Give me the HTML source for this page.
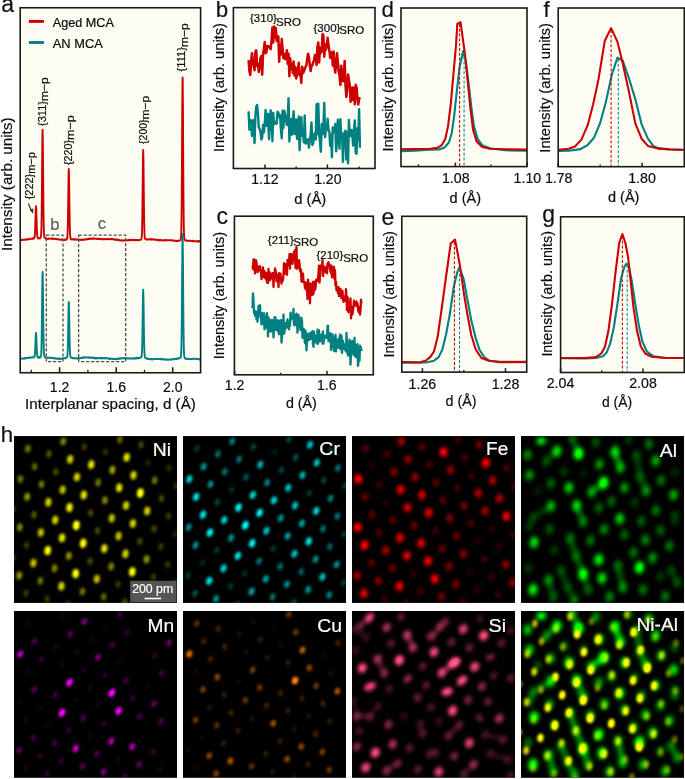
<!DOCTYPE html>
<html><head><meta charset="utf-8"><style>
html,body{margin:0;padding:0;background:#fff;width:685px;height:779px;overflow:hidden;}
text{font-family:"Liberation Sans",sans-serif;}
</style></head><body>
<svg width="685" height="779" viewBox="0 0 685 779" font-family="Liberation Sans, sans-serif" style="position:absolute;left:0;top:0">
<defs>
</defs>
<rect x="20.2" y="7.75" width="180.4" height="365.0" fill="#fdfdf4" stroke="none"/>
<clipPath id="ca"><rect x="20.2" y="7.75" width="180.4" height="365.0"/></clipPath>
<line x1="28.9" y1="21.4" x2="44" y2="21.4" stroke="#cc0000" stroke-width="2.9"/>
<line x1="28.9" y1="42.5" x2="44" y2="42.5" stroke="#008080" stroke-width="2.9"/>
<text x="52.8" y="27.1" font-size="12.8" textLength="61.10" lengthAdjust="spacingAndGlyphs" fill="#0d0d0d" stroke="#0d0d0d" stroke-width="0.2">Aged MCA</text>
<text x="52.8" y="48.2" font-size="12.8" textLength="50.00" lengthAdjust="spacingAndGlyphs" fill="#0d0d0d" stroke="#0d0d0d" stroke-width="0.2">AN MCA</text>
<g clip-path="url(#ca)">
<polyline points="20.20,239.76 20.45,239.94 20.70,239.63 20.95,239.93 21.20,239.75 21.45,239.76 21.70,240.09 21.95,239.84 22.20,239.81 22.45,239.93 22.70,239.99 22.95,239.82 23.20,239.91 23.45,239.67 23.70,239.76 23.95,239.74 24.20,239.59 24.45,239.55 24.70,239.52 24.95,239.71 25.20,239.70 25.45,239.65 25.70,239.69 25.95,239.45 26.20,239.61 26.45,239.63 26.70,239.68 26.95,239.40 27.20,239.44 27.45,239.16 27.70,239.35 27.95,239.06 28.20,239.14 28.45,239.47 28.70,238.94 28.95,239.35 29.20,239.24 29.45,239.10 29.70,239.17 29.95,239.14 30.20,239.18 30.45,238.94 30.70,238.85 30.95,238.80 31.20,238.71 31.45,238.81 31.70,238.65 31.95,238.89 32.20,238.41 32.45,238.48 32.70,238.46 32.95,238.24 33.20,238.79 33.45,238.09 33.70,238.34 33.95,238.21 34.20,238.36 34.45,237.37 34.70,236.61 34.95,233.44 35.20,227.95 35.45,219.67 35.70,211.28 35.95,206.24 36.00,206.24 36.20,208.61 36.45,216.43 36.70,224.55 36.95,231.87 37.20,235.65 37.45,237.18 37.70,237.95 37.95,238.06 38.20,238.47 38.45,238.30 38.70,238.25 38.95,238.26 39.20,238.25 39.45,238.22 39.70,238.07 39.95,238.43 40.20,237.72 40.45,237.28 40.70,237.44 40.95,236.49 41.20,233.85 41.45,226.74 41.70,211.84 41.95,187.30 42.20,157.45 42.45,134.14 42.60,129.68 42.70,132.05 42.95,151.75 43.20,181.31 43.45,208.13 43.70,224.75 43.95,232.88 44.20,236.14 44.45,237.56 44.70,237.85 44.95,238.04 45.20,238.16 45.45,238.39 45.70,238.71 45.95,238.54 46.20,238.44 46.45,238.79 46.70,238.73 46.95,238.86 47.20,238.93 47.45,238.73 47.70,238.74 47.95,238.76 48.20,238.60 48.45,238.87 48.70,238.97 48.95,238.78 49.20,238.72 49.45,238.71 49.70,238.62 49.95,238.61 50.20,238.67 50.45,238.60 50.70,238.66 50.95,238.48 51.20,238.77 51.45,238.72 51.70,238.54 51.95,238.37 52.20,238.72 52.45,238.89 52.70,238.62 52.95,238.67 53.20,238.67 53.45,238.87 53.70,238.65 53.95,238.95 54.20,238.77 54.45,238.98 54.70,238.87 54.95,238.85 55.20,238.69 55.45,238.84 55.70,238.93 55.95,239.10 56.20,239.07 56.45,238.96 56.70,239.16 56.95,239.28 57.20,239.14 57.45,239.14 57.70,239.18 57.95,239.40 58.20,239.39 58.45,239.21 58.70,239.44 58.95,239.35 59.20,239.35 59.45,239.68 59.70,239.65 59.95,239.45 60.20,239.61 60.45,239.70 60.70,239.56 60.95,239.66 61.20,239.81 61.45,239.46 61.70,239.80 61.95,239.88 62.20,239.86 62.45,239.59 62.70,239.85 62.95,239.68 63.20,239.90 63.45,239.91 63.70,239.85 63.95,239.69 64.20,239.71 64.45,239.91 64.70,239.62 64.95,239.80 65.20,239.77 65.45,239.61 65.70,239.95 65.95,239.54 66.20,239.76 66.45,239.02 66.70,238.82 66.95,238.99 67.20,238.15 67.45,235.82 67.70,230.45 67.95,219.23 68.20,202.36 68.45,182.99 68.70,170.20 68.80,169.05 68.95,171.82 69.20,186.81 69.45,206.04 69.70,222.01 69.95,231.74 70.20,236.23 70.45,238.22 70.70,238.51 70.95,239.16 71.20,238.85 71.45,239.24 71.70,239.02 71.95,239.43 72.20,239.24 72.45,239.31 72.70,239.38 72.95,239.19 73.20,239.15 73.45,239.02 73.70,239.52 73.95,239.24 74.20,239.27 74.45,239.37 74.70,239.69 74.95,239.15 75.20,239.46 75.45,239.38 75.70,239.53 75.95,239.20 76.20,239.42 76.45,239.63 76.70,239.75 76.95,239.78 77.20,239.42 77.45,239.58 77.70,239.57 77.95,239.40 78.20,239.40 78.45,239.75 78.70,239.69 78.95,239.64 79.20,239.86 79.45,239.54 79.70,239.78 79.95,239.71 80.20,239.71 80.45,239.80 80.70,239.75 80.95,239.77 81.20,239.77 81.45,240.02 81.70,239.68 81.95,239.87 82.20,239.81 82.45,239.65 82.70,239.81 82.95,239.55 83.20,239.84 83.45,239.53 83.70,239.56 83.95,239.66 84.20,239.71 84.45,239.70 84.70,239.67 84.95,239.47 85.20,239.33 85.45,239.53 85.70,239.46 85.95,239.23 86.20,239.49 86.45,239.34 86.70,239.13 86.95,239.30 87.20,239.00 87.45,239.03 87.70,239.18 87.95,238.85 88.20,239.06 88.45,238.81 88.70,239.09 88.95,238.83 89.20,238.94 89.45,238.65 89.70,238.79 89.95,238.96 90.20,238.86 90.45,238.48 90.70,238.87 90.95,238.84 91.20,238.63 91.45,238.88 91.70,238.49 91.95,238.63 92.20,238.79 92.45,238.81 92.70,238.80 92.95,238.44 93.20,238.33 93.45,238.65 93.70,238.38 93.95,238.58 94.20,238.41 94.45,238.77 94.70,238.74 94.95,238.71 95.20,238.64 95.45,238.66 95.70,238.62 95.95,238.74 96.20,238.74 96.45,238.79 96.70,238.68 96.95,239.05 97.20,238.82 97.45,239.01 97.70,239.03 97.95,238.72 98.20,238.62 98.45,239.08 98.70,238.86 98.95,238.95 99.20,238.92 99.45,239.00 99.70,238.82 99.95,239.00 100.20,238.97 100.45,239.05 100.70,238.73 100.95,239.22 101.20,239.16 101.45,238.87 101.70,239.03 101.95,239.16 102.20,239.26 102.45,239.17 102.70,239.39 102.95,239.19 103.20,239.04 103.45,239.09 103.70,239.31 103.95,239.10 104.20,239.32 104.45,239.34 104.70,239.27 104.95,239.33 105.20,239.15 105.45,239.17 105.70,239.07 105.95,239.06 106.20,238.91 106.45,239.05 106.70,238.97 106.95,238.90 107.20,239.13 107.45,239.17 107.70,239.04 107.95,239.29 108.20,239.22 108.45,239.23 108.70,238.98 108.95,238.84 109.20,239.15 109.45,239.11 109.70,239.17 109.95,239.12 110.20,239.25 110.45,239.03 110.70,239.18 110.95,238.95 111.20,238.75 111.45,239.04 111.70,239.35 111.95,238.89 112.20,239.31 112.45,239.08 112.70,239.15 112.95,239.24 113.20,239.29 113.45,239.14 113.70,239.33 113.95,239.41 114.20,239.50 114.45,239.30 114.70,239.68 114.95,239.77 115.20,239.89 115.45,239.36 115.70,239.63 115.95,239.37 116.20,239.74 116.45,239.81 116.70,239.60 116.95,239.57 117.20,239.88 117.45,239.99 117.70,239.81 117.95,239.93 118.20,239.63 118.45,239.94 118.70,240.11 118.95,240.14 119.20,240.39 119.45,240.01 119.70,239.88 119.95,240.31 120.20,240.18 120.45,240.34 120.70,240.43 120.95,240.43 121.20,240.57 121.45,240.57 121.70,240.14 121.95,240.39 122.20,240.71 122.45,240.35 122.70,240.56 122.95,240.41 123.20,240.36 123.45,240.66 123.70,240.57 123.95,240.37 124.20,240.54 124.45,240.20 124.70,240.27 124.95,240.50 125.20,240.36 125.45,240.18 125.70,240.39 125.95,240.36 126.20,240.48 126.45,240.41 126.70,240.21 126.95,240.16 127.20,240.19 127.45,240.16 127.70,240.39 127.95,240.39 128.20,240.34 128.45,240.17 128.70,240.06 128.95,240.22 129.20,240.01 129.45,240.09 129.70,239.79 129.95,239.96 130.20,240.23 130.45,239.85 130.70,239.77 130.95,239.96 131.20,240.23 131.45,240.19 131.70,239.92 131.95,239.90 132.20,239.96 132.45,239.84 132.70,239.98 132.95,239.94 133.20,239.77 133.45,239.91 133.70,239.97 133.95,239.89 134.20,239.86 134.45,240.17 134.70,240.33 134.95,240.02 135.20,240.01 135.45,240.16 135.70,240.06 135.95,239.99 136.20,240.33 136.45,239.97 136.70,240.03 136.95,240.05 137.20,240.02 137.45,240.12 137.70,240.25 137.95,240.38 138.20,240.26 138.45,240.16 138.70,239.95 138.95,240.11 139.20,239.96 139.45,240.06 139.70,240.18 139.95,240.01 140.20,239.88 140.45,239.72 140.70,239.72 140.95,239.58 141.20,239.18 141.45,238.69 141.70,237.39 141.95,232.93 142.20,223.71 142.45,206.37 142.70,182.89 142.95,159.86 143.20,149.99 143.45,159.78 143.70,182.60 143.95,206.45 144.20,223.35 144.45,232.98 144.70,237.07 144.95,238.23 145.20,239.08 145.45,239.27 145.70,239.05 145.95,239.29 146.20,239.36 146.45,239.36 146.70,239.52 146.95,239.28 147.20,239.44 147.45,239.51 147.70,239.58 147.95,239.47 148.20,239.42 148.45,239.56 148.70,239.14 148.95,239.57 149.20,239.38 149.45,239.23 149.70,239.35 149.95,239.13 150.20,239.10 150.45,239.35 150.70,239.28 150.95,239.51 151.20,239.27 151.45,239.21 151.70,239.27 151.95,239.68 152.20,239.44 152.45,239.36 152.70,239.31 152.95,239.31 153.20,239.47 153.45,239.58 153.70,239.71 153.95,239.73 154.20,239.63 154.45,239.51 154.70,239.51 154.95,239.32 155.20,239.54 155.45,239.79 155.70,239.70 155.95,239.84 156.20,239.61 156.45,239.98 156.70,239.92 156.95,239.91 157.20,239.99 157.45,239.63 157.70,239.91 157.95,239.88 158.20,240.32 158.45,240.04 158.70,240.02 158.95,240.25 159.20,239.98 159.45,240.38 159.70,240.08 159.95,240.19 160.20,240.08 160.45,240.35 160.70,239.92 160.95,240.36 161.20,240.14 161.45,240.28 161.70,240.11 161.95,240.32 162.20,240.31 162.45,240.38 162.70,240.33 162.95,240.38 163.20,240.43 163.45,240.22 163.70,240.10 163.95,240.08 164.20,240.37 164.45,240.20 164.70,240.41 164.95,240.25 165.20,240.08 165.45,240.36 165.70,240.51 165.95,240.19 166.20,240.07 166.45,240.07 166.70,240.33 166.95,240.10 167.20,240.12 167.45,240.28 167.70,240.18 167.95,240.19 168.20,240.10 168.45,240.08 168.70,240.21 168.95,240.21 169.20,240.28 169.45,240.13 169.70,240.26 169.95,240.30 170.20,240.25 170.45,240.34 170.70,240.42 170.95,240.32 171.20,240.32 171.45,240.19 171.70,240.41 171.95,240.37 172.20,240.36 172.45,240.31 172.70,240.55 172.95,240.88 173.20,240.59 173.45,240.57 173.70,240.66 173.95,240.54 174.20,240.67 174.45,240.59 174.70,240.63 174.95,240.79 175.20,240.82 175.45,240.80 175.70,240.73 175.95,240.91 176.20,240.74 176.45,241.04 176.70,240.89 176.95,240.96 177.20,241.09 177.45,241.06 177.70,240.79 177.95,240.94 178.20,241.02 178.45,240.78 178.70,240.55 178.95,240.85 179.20,240.79 179.45,240.78 179.70,240.62 179.95,240.47 180.20,240.28 180.45,240.14 180.70,239.43 180.95,237.98 181.20,233.74 181.45,223.39 181.70,200.80 181.95,163.98 182.20,118.58 182.45,84.25 182.60,77.48 182.70,80.45 182.95,110.56 183.20,155.09 183.45,194.47 183.70,219.69 183.95,232.53 184.20,237.36 184.45,239.12 184.70,239.58 184.95,240.22 185.20,240.32 185.45,240.34 185.70,240.48 185.95,240.34 186.20,240.74 186.45,240.53 186.70,240.86 186.95,240.69 187.20,240.69 187.45,240.85 187.70,240.84 187.95,240.65 188.20,240.82 188.45,240.93 188.70,240.80 188.95,240.64 189.20,240.81 189.45,240.71 189.70,240.77 189.95,240.87 190.20,240.86 190.45,240.84 190.70,240.64 190.95,240.94 191.20,240.87 191.45,240.85 191.70,240.95 191.95,241.22 192.20,240.76 192.45,240.72 192.70,241.09 192.95,240.88 193.20,241.21 193.45,240.88 193.70,240.97 193.95,241.19 194.20,241.22 194.45,241.17 194.70,241.19 194.95,241.12 195.20,241.09 195.45,241.14 195.70,241.38 195.95,241.31 196.20,241.22 196.45,241.28 196.70,241.37 196.95,241.43 197.20,241.24 197.45,241.26 197.70,241.33 197.95,241.67 198.20,241.32 198.45,241.48 198.70,241.06 198.95,241.41 199.20,241.07 199.45,241.11 199.70,241.17 199.95,241.24 200.20,241.27 200.45,241.29" fill="none" stroke="#cc0000" stroke-width="1.9" stroke-linejoin="round" />
<polyline points="20.20,358.51 20.45,358.58 20.70,358.45 20.95,358.58 21.20,358.67 21.45,358.59 21.70,358.76 21.95,358.39 22.20,358.53 22.45,358.41 22.70,358.38 22.95,358.46 23.20,358.51 23.45,358.52 23.70,358.51 23.95,358.75 24.20,358.52 24.45,358.12 24.70,358.37 24.95,358.21 25.20,358.20 25.45,358.44 25.70,358.17 25.95,357.88 26.20,358.18 26.45,358.05 26.70,357.88 26.95,357.88 27.20,357.88 27.45,357.93 27.70,357.83 27.95,357.87 28.20,358.10 28.45,357.66 28.70,357.63 28.95,357.67 29.20,357.84 29.45,357.54 29.70,357.82 29.95,357.38 30.20,357.40 30.45,357.51 30.70,357.37 30.95,357.38 31.20,357.52 31.45,357.54 31.70,357.43 31.95,357.35 32.20,357.58 32.45,357.42 32.70,357.31 32.95,357.50 33.20,357.17 33.45,357.30 33.70,357.34 33.95,357.19 34.20,356.99 34.45,356.81 34.70,355.76 34.95,353.55 35.20,349.23 35.45,343.29 35.70,336.45 35.95,333.05 36.00,332.83 36.20,334.51 36.45,340.50 36.70,347.18 36.95,352.35 37.20,355.10 37.45,356.67 37.70,357.31 37.95,357.43 38.20,357.59 38.45,357.70 38.70,357.56 38.95,357.80 39.20,357.27 39.45,357.44 39.70,357.06 39.95,357.50 40.20,357.30 40.45,357.38 40.70,356.78 40.95,355.78 41.20,354.13 41.45,348.19 41.70,336.45 41.95,317.21 42.20,293.73 42.45,275.35 42.60,271.93 42.70,273.20 42.95,289.42 43.20,312.60 43.45,333.34 43.70,346.68 43.95,353.17 44.20,355.79 44.45,356.55 44.70,357.02 44.95,357.27 45.20,357.47 45.45,357.37 45.70,357.46 45.95,357.54 46.20,357.61 46.45,357.57 46.70,357.52 46.95,357.50 47.20,357.75 47.45,357.64 47.70,357.61 47.95,358.13 48.20,357.75 48.45,357.75 48.70,357.66 48.95,357.49 49.20,357.83 49.45,357.65 49.70,357.69 49.95,357.85 50.20,357.87 50.45,357.77 50.70,357.76 50.95,358.09 51.20,357.89 51.45,357.67 51.70,357.97 51.95,357.90 52.20,357.92 52.45,358.05 52.70,358.01 52.95,358.31 53.20,358.08 53.45,358.12 53.70,358.29 53.95,358.07 54.20,358.35 54.45,358.22 54.70,358.45 54.95,358.18 55.20,358.41 55.45,358.14 55.70,358.35 55.95,358.45 56.20,358.55 56.45,358.81 56.70,358.82 56.95,358.37 57.20,358.48 57.45,358.80 57.70,358.70 57.95,358.45 58.20,358.75 58.45,358.52 58.70,358.57 58.95,358.52 59.20,358.67 59.45,359.05 59.70,358.77 59.95,358.70 60.20,359.09 60.45,358.63 60.70,358.67 60.95,358.64 61.20,358.73 61.45,358.60 61.70,358.85 61.95,358.56 62.20,358.67 62.45,358.59 62.70,358.40 62.95,358.35 63.20,358.46 63.45,358.09 63.70,358.40 63.95,358.37 64.20,358.34 64.45,358.26 64.70,358.28 64.95,358.13 65.20,358.23 65.45,357.83 65.70,358.15 65.95,357.82 66.20,357.94 66.45,357.69 66.70,357.56 66.95,357.25 67.20,356.94 67.45,354.84 67.70,350.54 67.95,342.09 68.20,328.58 68.45,313.26 68.70,302.88 68.80,301.89 68.95,304.42 69.20,315.99 69.45,331.62 69.70,344.28 69.95,351.85 70.20,355.27 70.45,357.15 70.70,357.39 70.95,357.61 71.20,357.64 71.45,357.64 71.70,357.81 71.95,357.94 72.20,357.83 72.45,358.02 72.70,358.21 72.95,358.14 73.20,358.09 73.45,358.29 73.70,358.29 73.95,358.31 74.20,358.08 74.45,357.94 74.70,358.35 74.95,358.25 75.20,358.20 75.45,358.34 75.70,358.20 75.95,358.18 76.20,358.55 76.45,358.04 76.70,358.40 76.95,358.43 77.20,358.53 77.45,358.30 77.70,358.32 77.95,358.10 78.20,358.22 78.45,357.89 78.70,358.10 78.95,358.15 79.20,358.12 79.45,358.04 79.70,358.26 79.95,357.82 80.20,358.04 80.45,357.93 80.70,357.97 80.95,357.94 81.20,358.19 81.45,357.70 81.70,358.03 81.95,358.00 82.20,357.74 82.45,357.63 82.70,357.51 82.95,357.53 83.20,357.94 83.45,357.28 83.70,357.64 83.95,357.44 84.20,357.80 84.45,357.55 84.70,357.28 84.95,357.38 85.20,357.47 85.45,357.45 85.70,357.27 85.95,357.36 86.20,357.33 86.45,357.47 86.70,357.43 86.95,357.43 87.20,357.31 87.45,357.52 87.70,357.33 87.95,357.30 88.20,357.37 88.45,357.40 88.70,357.42 88.95,357.20 89.20,357.71 89.45,357.63 89.70,357.76 89.95,357.53 90.20,357.73 90.45,357.67 90.70,357.68 90.95,357.97 91.20,357.64 91.45,357.85 91.70,357.54 91.95,357.91 92.20,357.83 92.45,357.74 92.70,357.83 92.95,357.63 93.20,357.81 93.45,358.02 93.70,357.63 93.95,358.21 94.20,358.22 94.45,357.98 94.70,357.89 94.95,357.92 95.20,357.95 95.45,358.04 95.70,358.49 95.95,358.01 96.20,358.29 96.45,358.37 96.70,358.05 96.95,358.15 97.20,358.29 97.45,358.09 97.70,358.37 97.95,358.50 98.20,358.16 98.45,358.04 98.70,358.24 98.95,358.19 99.20,358.02 99.45,358.10 99.70,358.12 99.95,358.17 100.20,358.25 100.45,358.00 100.70,357.87 100.95,357.81 101.20,358.32 101.45,357.97 101.70,357.97 101.95,358.39 102.20,358.18 102.45,358.35 102.70,357.99 102.95,357.91 103.20,357.93 103.45,358.11 103.70,358.08 103.95,358.09 104.20,358.37 104.45,358.25 104.70,357.90 104.95,358.14 105.20,358.18 105.45,358.00 105.70,358.48 105.95,358.29 106.20,358.40 106.45,358.12 106.70,358.06 106.95,358.37 107.20,358.26 107.45,358.23 107.70,358.34 107.95,358.42 108.20,358.44 108.45,358.43 108.70,358.56 108.95,358.96 109.20,358.74 109.45,358.52 109.70,358.94 109.95,358.59 110.20,358.47 110.45,358.52 110.70,358.46 110.95,358.96 111.20,358.65 111.45,358.63 111.70,358.78 111.95,358.86 112.20,358.72 112.45,358.84 112.70,358.94 112.95,359.06 113.20,358.83 113.45,359.06 113.70,359.02 113.95,359.07 114.20,358.90 114.45,358.81 114.70,359.12 114.95,359.06 115.20,358.86 115.45,358.83 115.70,359.04 115.95,359.22 116.20,358.95 116.45,359.26 116.70,358.90 116.95,358.88 117.20,358.88 117.45,358.94 117.70,358.52 117.95,358.74 118.20,358.88 118.45,358.43 118.70,358.67 118.95,358.71 119.20,358.83 119.45,358.78 119.70,358.51 119.95,358.79 120.20,358.29 120.45,358.22 120.70,358.60 120.95,358.48 121.20,358.18 121.45,358.50 121.70,358.44 121.95,358.40 122.20,358.21 122.45,358.07 122.70,358.00 122.95,358.21 123.20,358.21 123.45,358.15 123.70,358.14 123.95,358.36 124.20,358.05 124.45,358.11 124.70,358.53 124.95,358.14 125.20,358.15 125.45,358.41 125.70,357.99 125.95,358.52 126.20,358.10 126.45,358.18 126.70,358.13 126.95,358.19 127.20,358.24 127.45,358.51 127.70,358.37 127.95,358.61 128.20,358.54 128.45,358.25 128.70,358.45 128.95,358.37 129.20,358.41 129.45,358.51 129.70,358.56 129.95,358.58 130.20,358.20 130.45,358.51 130.70,358.47 130.95,358.82 131.20,358.50 131.45,358.53 131.70,358.54 131.95,358.65 132.20,358.35 132.45,358.50 132.70,358.49 132.95,358.49 133.20,358.45 133.45,358.39 133.70,358.46 133.95,358.23 134.20,358.65 134.45,358.38 134.70,358.09 134.95,358.29 135.20,358.45 135.45,358.25 135.70,358.23 135.95,357.88 136.20,358.41 136.45,358.18 136.70,357.84 136.95,358.04 137.20,358.30 137.45,358.10 137.70,357.79 137.95,357.90 138.20,357.99 138.45,358.23 138.70,357.92 138.95,357.97 139.20,357.77 139.45,357.79 139.70,357.59 139.95,357.50 140.20,357.44 140.45,357.49 140.70,357.69 140.95,357.39 141.20,357.40 141.45,356.93 141.70,355.71 141.95,352.54 142.20,345.83 142.45,332.62 142.70,314.52 142.95,297.36 143.20,289.77 143.45,297.08 143.70,314.50 143.95,332.69 144.20,346.06 144.45,352.73 144.70,355.73 144.95,357.11 145.20,357.63 145.45,357.76 145.70,358.14 145.95,358.21 146.20,358.22 146.45,358.32 146.70,358.68 146.95,358.76 147.20,358.79 147.45,358.53 147.70,358.83 147.95,358.52 148.20,358.46 148.45,359.04 148.70,358.95 148.95,358.96 149.20,359.11 149.45,359.18 149.70,359.00 149.95,359.02 150.20,359.09 150.45,359.15 150.70,359.07 150.95,358.85 151.20,359.44 151.45,358.97 151.70,359.00 151.95,359.18 152.20,359.09 152.45,359.18 152.70,359.46 152.95,359.31 153.20,359.02 153.45,359.13 153.70,359.07 153.95,359.26 154.20,358.93 154.45,358.91 154.70,358.79 154.95,359.11 155.20,359.08 155.45,359.12 155.70,359.13 155.95,358.81 156.20,358.92 156.45,358.81 156.70,359.15 156.95,359.09 157.20,358.73 157.45,359.03 157.70,358.96 157.95,358.96 158.20,359.05 158.45,358.85 158.70,358.90 158.95,358.85 159.20,358.86 159.45,358.81 159.70,359.15 159.95,359.08 160.20,358.97 160.45,358.77 160.70,359.38 160.95,359.06 161.20,359.11 161.45,359.20 161.70,359.38 161.95,359.10 162.20,358.82 162.45,359.15 162.70,359.22 162.95,359.17 163.20,359.50 163.45,359.24 163.70,359.39 163.95,359.25 164.20,359.51 164.45,359.32 164.70,359.58 164.95,359.50 165.20,359.53 165.45,359.57 165.70,359.30 165.95,359.50 166.20,359.62 166.45,359.54 166.70,359.80 166.95,359.76 167.20,359.53 167.45,359.82 167.70,359.62 167.95,359.73 168.20,359.84 168.45,359.48 168.70,359.52 168.95,359.63 169.20,359.59 169.45,359.36 169.70,359.70 169.95,359.60 170.20,359.59 170.45,359.58 170.70,359.62 170.95,359.36 171.20,359.50 171.45,359.36 171.70,359.32 171.95,359.23 172.20,359.51 172.45,358.92 172.70,359.15 172.95,359.32 173.20,359.13 173.45,359.05 173.70,359.26 173.95,358.93 174.20,358.99 174.45,359.05 174.70,358.88 174.95,358.84 175.20,358.89 175.45,359.00 175.70,358.68 175.95,358.86 176.20,358.74 176.45,358.66 176.70,358.49 176.95,358.91 177.20,358.71 177.45,358.63 177.70,358.51 177.95,358.77 178.20,358.39 178.45,358.30 178.70,358.29 178.95,358.35 179.20,358.35 179.45,357.93 179.70,358.18 179.95,358.07 180.20,358.03 180.45,357.60 180.70,357.44 180.95,356.42 181.20,352.93 181.45,344.96 181.70,328.14 181.95,300.09 182.20,265.74 182.45,239.57 182.60,234.07 182.70,236.75 182.95,259.41 183.20,293.47 183.45,323.44 183.70,342.72 183.95,352.08 184.20,356.18 184.45,357.05 184.70,357.94 184.95,358.08 185.20,358.66 185.45,358.34 185.70,358.64 185.95,358.71 186.20,358.90 186.45,358.84 186.70,358.73 186.95,358.90 187.20,359.13 187.45,359.09 187.70,358.89 187.95,358.82 188.20,358.82 188.45,359.01 188.70,359.00 188.95,358.97 189.20,358.94 189.45,359.04 189.70,359.20 189.95,359.15 190.20,358.92 190.45,359.09 190.70,358.92 190.95,359.14 191.20,359.09 191.45,359.06 191.70,359.24 191.95,359.05 192.20,359.02 192.45,359.08 192.70,358.70 192.95,358.80 193.20,358.79 193.45,358.96 193.70,358.84 193.95,358.64 194.20,358.71 194.45,358.79 194.70,358.76 194.95,358.76 195.20,358.62 195.45,358.87 195.70,358.67 195.95,358.82 196.20,358.80 196.45,358.86 196.70,359.15 196.95,358.89 197.20,358.92 197.45,358.64 197.70,358.91 197.95,359.11 198.20,359.06 198.45,359.26 198.70,359.13 198.95,359.34 199.20,359.29 199.45,359.46 199.70,359.29 199.95,359.51 200.20,359.35 200.45,359.35" fill="none" stroke="#008080" stroke-width="1.9" stroke-linejoin="round" />
</g>
<rect x="46.3" y="235.1" width="16.7" height="126.5" fill="none" stroke="#505050" stroke-width="1.3" stroke-dasharray="3.2,1.8"/>
<rect x="78.6" y="235.1" width="47.1" height="126.5" fill="none" stroke="#505050" stroke-width="1.3" stroke-dasharray="3.2,1.8"/>
<text x="54.8" y="229.5" font-size="16.5" text-anchor="middle" fill="#5c5c5c" stroke="#5c5c5c" stroke-width="0.2" >b</text>
<text x="101.9" y="229.3" font-size="16.5" text-anchor="middle" fill="#5c5c5c" stroke="#5c5c5c" stroke-width="0.2" >c</text>
<text transform="translate(33.0,199.3) rotate(-90)" x="0" y="0" font-size="11.4" textLength="25.50" lengthAdjust="spacingAndGlyphs" fill="#0d0d0d" stroke="#0d0d0d" stroke-width="0.2">{222}</text>
<text transform="translate(35.2,173.8) rotate(-90)" x="0" y="0" font-size="11.4" textLength="21.60" lengthAdjust="spacingAndGlyphs" fill="#0d0d0d" stroke="#0d0d0d" stroke-width="0.2">m−p</text>
<text transform="translate(45.6,126) rotate(-90)" x="0" y="0" font-size="11.4" textLength="25.00" lengthAdjust="spacingAndGlyphs" fill="#0d0d0d" stroke="#0d0d0d" stroke-width="0.2">{311}</text>
<text transform="translate(47.800000000000004,101) rotate(-90)" x="0" y="0" font-size="11.4" textLength="23.60" lengthAdjust="spacingAndGlyphs" fill="#0d0d0d" stroke="#0d0d0d" stroke-width="0.2">m−p</text>
<text transform="translate(71.9,165) rotate(-90)" x="0" y="0" font-size="11.4" textLength="25.00" lengthAdjust="spacingAndGlyphs" fill="#0d0d0d" stroke="#0d0d0d" stroke-width="0.2">{220}</text>
<text transform="translate(74.10000000000001,140) rotate(-90)" x="0" y="0" font-size="11.4" textLength="24.70" lengthAdjust="spacingAndGlyphs" fill="#0d0d0d" stroke="#0d0d0d" stroke-width="0.2">m−p</text>
<text transform="translate(146.5,143.9) rotate(-90)" x="0" y="0" font-size="11.4" textLength="24.40" lengthAdjust="spacingAndGlyphs" fill="#0d0d0d" stroke="#0d0d0d" stroke-width="0.2">{200}</text>
<text transform="translate(148.7,119.5) rotate(-90)" x="0" y="0" font-size="11.4" textLength="23.70" lengthAdjust="spacingAndGlyphs" fill="#0d0d0d" stroke="#0d0d0d" stroke-width="0.2">m−p</text>
<text transform="translate(185.4,71.5) rotate(-90)" x="0" y="0" font-size="11.4" textLength="24.50" lengthAdjust="spacingAndGlyphs" fill="#0d0d0d" stroke="#0d0d0d" stroke-width="0.2">{111}</text>
<text transform="translate(187.6,47) rotate(-90)" x="0" y="0" font-size="11.4" textLength="23.60" lengthAdjust="spacingAndGlyphs" fill="#0d0d0d" stroke="#0d0d0d" stroke-width="0.2">m−p</text>
<line x1="28.3" y1="203.5" x2="31.8" y2="211.5" stroke="#333" stroke-width="1.2"/>
<path d="M33,213.8 L29.6,209.6 L33.4,208.6 Z" fill="#333"/>
<rect x="20.2" y="7.75" width="180.4" height="365.0" fill="none" stroke="#1a1a1a" stroke-width="1.6"/>
<line x1="59.6" y1="372.75" x2="59.6" y2="367.25" stroke="#1a1a1a" stroke-width="1.5"/>
<line x1="116.2" y1="372.75" x2="116.2" y2="367.25" stroke="#1a1a1a" stroke-width="1.5"/>
<line x1="172.7" y1="372.75" x2="172.7" y2="367.25" stroke="#1a1a1a" stroke-width="1.5"/>
<line x1="31.3" y1="372.75" x2="31.3" y2="369.75" stroke="#1a1a1a" stroke-width="1.3"/>
<line x1="87.9" y1="372.75" x2="87.9" y2="369.75" stroke="#1a1a1a" stroke-width="1.3"/>
<line x1="144.5" y1="372.75" x2="144.5" y2="369.75" stroke="#1a1a1a" stroke-width="1.3"/>
<text x="59.6" y="391.5" font-size="14" text-anchor="middle" fill="#0d0d0d" stroke="#0d0d0d" stroke-width="0.2" >1.2</text>
<text x="116.2" y="391.5" font-size="14" text-anchor="middle" fill="#0d0d0d" stroke="#0d0d0d" stroke-width="0.2" >1.6</text>
<text x="172.7" y="391.5" font-size="14" text-anchor="middle" fill="#0d0d0d" stroke="#0d0d0d" stroke-width="0.2" >2.0</text>
<text x="25" y="409.2" font-size="15" textLength="170.90" lengthAdjust="spacingAndGlyphs" fill="#0d0d0d" stroke="#0d0d0d" stroke-width="0.2">Interplanar spacing, d (Å)</text>
<text transform="translate(12.0,251) rotate(-90)" x="0" y="0" font-size="15" textLength="133.50" lengthAdjust="spacingAndGlyphs" fill="#0d0d0d" stroke="#0d0d0d" stroke-width="0.2">Intensity (arb. units)</text>
<text x="1.2" y="12.4" font-size="23" text-anchor="start" fill="#111" stroke="#111" stroke-width="0.2" >a</text>
<rect x="233.4" y="7.6" width="141.6" height="160.9" fill="#fdfdf4" stroke="none"/>
<polyline points="248.60,60.21 249.45,71.48 250.30,74.87 251.15,61.26 252.00,53.19 252.85,61.75 253.70,65.54 254.55,70.17 255.40,51.31 256.25,50.36 257.10,66.01 257.95,63.81 258.80,71.87 259.65,67.03 260.50,57.94 261.35,56.13 262.20,74.70 263.05,54.11 263.90,48.87 264.75,42.00 265.60,53.36 266.45,52.04 267.30,45.99 268.15,46.13 269.00,46.68 269.85,47.91 270.70,49.09 271.55,39.96 272.40,27.50 273.25,42.47 274.10,26.47 274.95,37.43 275.80,27.98 276.65,40.99 277.50,36.02 278.35,36.50 279.20,61.80 280.05,45.71 280.90,54.54 281.75,38.91 282.60,48.90 283.45,58.20 284.30,53.86 285.15,59.14 286.00,58.03 286.85,50.17 287.70,63.75 288.55,53.76 289.40,76.25 290.25,58.26 291.10,68.81 291.95,64.36 292.80,72.98 293.65,61.56 294.50,75.39 295.35,67.11 296.20,78.45 297.05,73.58 297.90,69.96 298.75,62.83 299.60,75.46 300.45,73.30 301.30,82.94 302.15,66.78 303.00,73.10 303.85,71.60 304.70,68.66 305.55,66.93 306.40,65.59 307.25,58.21 308.10,53.77 308.95,57.72 309.80,64.63 310.65,71.00 311.50,65.73 312.35,65.35 313.20,62.15 314.05,60.51 314.90,55.03 315.75,58.37 316.60,65.03 317.45,46.86 318.30,42.57 319.15,62.51 320.00,47.85 320.85,52.71 321.70,50.99 322.55,33.97 323.40,35.50 324.25,56.71 325.10,44.48 325.95,49.65 326.80,45.22 327.65,37.69 328.50,44.98 329.35,50.35 330.20,57.78 331.05,56.01 331.90,52.30 332.75,65.46 333.60,51.51 334.45,66.92 335.30,72.45 336.15,63.89 337.00,53.18 337.85,61.52 338.70,71.95 339.55,75.55 340.40,84.99 341.25,65.84 342.10,75.13 342.95,81.26 343.80,75.76 344.65,60.98 345.50,85.39 346.35,96.89 347.20,88.88 348.05,74.47 348.90,79.46 349.75,85.49 350.60,101.66 351.45,90.53 352.30,87.44 353.15,99.92 354.00,87.75 354.85,104.23 355.70,84.79 356.55,87.41 357.40,97.91 358.25,104.47 359.10,99.24 359.95,97.36" fill="none" stroke="#cc0000" stroke-width="2.5" stroke-linejoin="round" />
<polyline points="248.60,111.38 249.45,129.88 250.30,123.21 251.15,120.09 252.00,135.93 252.85,124.78 253.70,120.06 254.55,143.15 255.40,116.07 256.25,106.73 257.10,104.94 257.95,114.18 258.80,127.29 259.65,129.01 260.50,131.80 261.35,139.49 262.20,137.50 263.05,124.85 263.90,132.30 264.75,124.07 265.60,109.85 266.45,125.86 267.30,116.99 268.15,113.82 269.00,139.30 269.85,125.03 270.70,110.41 271.55,115.06 272.40,141.26 273.25,112.93 274.10,124.26 274.95,122.84 275.80,122.14 276.65,123.63 277.50,111.78 278.35,112.60 279.20,116.72 280.05,115.01 280.90,129.18 281.75,138.34 282.60,110.60 283.45,127.93 284.30,110.73 285.15,114.67 286.00,120.46 286.85,125.01 287.70,119.16 288.55,98.13 289.40,141.43 290.25,122.63 291.10,118.89 291.95,134.74 292.80,120.36 293.65,111.18 294.50,134.05 295.35,133.61 296.20,119.33 297.05,138.97 297.90,133.77 298.75,116.41 299.60,150.28 300.45,133.22 301.30,117.09 302.15,135.82 303.00,132.25 303.85,142.32 304.70,115.49 305.55,143.58 306.40,142.66 307.25,140.00 308.10,139.24 308.95,147.68 309.80,140.95 310.65,133.95 311.50,122.47 312.35,144.96 313.20,143.22 314.05,135.02 314.90,133.09 315.75,139.51 316.60,104.24 317.45,134.33 318.30,103.79 319.15,132.98 320.00,142.27 320.85,151.80 321.70,123.98 322.55,134.27 323.40,128.19 324.25,102.84 325.10,137.13 325.95,128.82 326.80,130.20 327.65,118.81 328.50,129.71 329.35,131.54 330.20,145.90 331.05,134.80 331.90,157.22 332.75,127.41 333.60,129.48 334.45,132.35 335.30,123.91 336.15,151.38 337.00,141.69 337.85,119.70 338.70,136.20 339.55,148.75 340.40,119.13 341.25,137.66 342.10,133.41 342.95,161.89 343.80,141.53 344.65,132.18 345.50,130.65 346.35,159.49 347.20,132.28 348.05,163.42 348.90,120.00 349.75,136.24 350.60,135.58 351.45,129.90 352.30,135.38 353.15,145.66 354.00,129.60 354.85,120.38 355.70,152.52 356.55,153.70 357.40,128.28 358.25,139.63 359.10,109.27 359.95,147.70" fill="none" stroke="#008080" stroke-width="2.4" stroke-linejoin="round" />
<rect x="233.4" y="7.6" width="141.6" height="160.9" fill="none" stroke="#1a1a1a" stroke-width="1.6"/>
<line x1="265" y1="168.5" x2="265" y2="164.5" stroke="#1a1a1a" stroke-width="1.5"/>
<line x1="327.4" y1="168.5" x2="327.4" y2="164.5" stroke="#1a1a1a" stroke-width="1.5"/>
<line x1="296.1" y1="168.5" x2="296.1" y2="166.5" stroke="#1a1a1a" stroke-width="1.3"/>
<line x1="359.2" y1="168.5" x2="359.2" y2="166.5" stroke="#1a1a1a" stroke-width="1.3"/>
<text x="264.9" y="183.6" font-size="14" text-anchor="middle" fill="#0d0d0d" stroke="#0d0d0d" stroke-width="0.2" >1.12</text>
<text x="327.8" y="183.6" font-size="14" text-anchor="middle" fill="#0d0d0d" stroke="#0d0d0d" stroke-width="0.2" >1.20</text>
<text x="294.2" y="204" font-size="15" textLength="32.10" lengthAdjust="spacingAndGlyphs" fill="#0d0d0d" stroke="#0d0d0d" stroke-width="0.2">d (Å)</text>
<text transform="translate(224.1,152) rotate(-90)" x="0" y="0" font-size="14.8" textLength="129.00" lengthAdjust="spacingAndGlyphs" fill="#0d0d0d" stroke="#0d0d0d" stroke-width="0.2">Intensity (arb. units)</text>
<text x="215.7" y="16.9" font-size="22.3" text-anchor="start" fill="#111" stroke="#111" stroke-width="0.2" >b</text>
<text x="250" y="22.3" font-size="11.5" text-anchor="start" fill="#0d0d0d" stroke="#0d0d0d" stroke-width="0.2" >{310}</text>
<text x="276" y="25.7" font-size="11.5" text-anchor="start" fill="#0d0d0d" stroke="#0d0d0d" stroke-width="0.2" >SRO</text>
<text x="313.5" y="31.5" font-size="11.5" text-anchor="start" fill="#0d0d0d" stroke="#0d0d0d" stroke-width="0.2" >{300}</text>
<text x="339.3" y="34.2" font-size="11.5" text-anchor="start" fill="#0d0d0d" stroke="#0d0d0d" stroke-width="0.2" >SRO</text>
<rect x="234.4" y="216.2" width="138.9" height="158.60000000000002" fill="#fdfdf4" stroke="none"/>
<polyline points="252.50,265.90 253.00,269.13 253.50,259.31 254.00,259.35 254.50,266.06 255.00,273.40 255.50,267.40 256.00,260.22 256.50,262.70 257.00,266.79 257.50,272.27 258.00,268.10 258.50,266.80 259.00,267.89 259.50,270.27 260.00,266.22 260.50,270.30 261.00,272.03 261.50,279.19 262.00,271.30 262.50,276.75 263.00,267.40 263.50,277.08 264.00,274.09 264.50,271.09 265.00,274.04 265.50,278.73 266.00,272.88 266.50,279.64 267.00,282.22 267.50,282.87 268.00,283.00 268.50,268.99 269.00,277.04 269.50,272.18 270.00,280.30 270.50,276.18 271.00,277.07 271.50,278.38 272.00,273.37 272.50,276.90 273.00,273.04 273.50,286.94 274.00,274.63 274.50,277.11 275.00,268.52 275.50,270.06 276.00,273.32 276.50,281.46 277.00,281.46 277.50,279.18 278.00,274.78 278.50,287.13 279.00,273.15 279.50,274.11 280.00,280.81 280.50,273.67 281.00,279.99 281.50,283.57 282.00,278.59 282.50,281.06 283.00,279.37 283.50,274.50 284.00,263.25 284.50,269.06 285.00,273.65 285.50,264.23 286.00,268.16 286.50,270.57 287.00,274.75 287.50,260.01 288.00,262.69 288.50,264.95 289.00,264.99 289.50,254.16 290.00,268.67 290.50,254.04 291.00,261.98 291.50,254.19 292.00,257.47 292.50,263.97 293.00,259.53 293.50,256.96 294.00,251.65 294.50,253.66 295.00,250.14 295.50,268.01 296.00,251.26 296.50,247.09 297.00,268.79 297.50,267.86 298.00,260.65 298.50,267.44 299.00,260.11 299.50,263.23 300.00,270.46 300.50,271.82 301.00,269.51 301.50,281.70 302.00,279.22 302.50,278.16 303.00,273.52 303.50,281.95 304.00,281.60 304.50,283.44 305.00,288.42 305.50,282.25 306.00,287.05 306.50,290.33 307.00,288.78 307.50,299.04 308.00,279.66 308.50,288.64 309.00,283.72 309.50,289.90 310.00,303.34 310.50,283.39 311.00,290.71 311.50,294.77 312.00,291.36 312.50,294.81 313.00,281.93 313.50,293.86 314.00,283.65 314.50,281.73 315.00,289.95 315.50,288.26 316.00,281.02 316.50,279.32 317.00,281.14 317.50,280.83 318.00,278.79 318.50,273.34 319.00,265.60 319.50,282.64 320.00,275.99 320.50,267.96 321.00,265.32 321.50,268.67 322.00,269.05 322.50,259.53 323.00,276.06 323.50,270.78 324.00,266.61 324.50,269.50 325.00,268.47 325.50,272.15 326.00,267.20 326.50,272.25 327.00,273.22 327.50,263.54 328.00,263.62 328.50,262.26 329.00,266.27 329.50,264.59 330.00,269.02 330.50,271.27 331.00,273.20 331.50,265.56 332.00,277.46 332.50,271.70 333.00,273.86 333.50,273.02 334.00,266.80 334.50,279.18 335.00,270.26 335.50,285.74 336.00,281.61 336.50,290.33 337.00,286.97 337.50,288.40 338.00,293.03 338.50,287.11 339.00,296.22 339.50,289.18 340.00,292.35 340.50,288.95 341.00,296.27 341.50,298.14 342.00,293.56 342.50,290.94 343.00,298.38 343.50,301.91 344.00,300.27 344.50,296.52 345.00,298.09 345.50,300.67 346.00,289.25 346.50,299.70 347.00,310.08 347.50,296.86 348.00,302.47 348.50,312.27 349.00,307.70 349.50,309.07 350.00,304.07 350.50,298.51 351.00,318.38 351.50,307.24 352.00,307.24 352.50,314.27 353.00,310.18 353.50,306.50 354.00,300.77 354.50,305.54 355.00,305.62 355.50,303.04 356.00,302.15 356.50,301.53 357.00,305.98 357.50,303.66 358.00,308.70 358.50,311.76 359.00,308.34 359.50,306.93 360.00,314.64 360.50,310.18 361.00,299.62 361.50,303.46" fill="none" stroke="#cc0000" stroke-width="2.3" stroke-linejoin="round" />
<polyline points="252.50,308.19 253.00,293.50 253.50,300.00 254.00,312.94 254.50,312.51 255.00,315.64 255.50,311.22 256.00,311.50 256.50,319.57 257.00,313.66 257.50,321.76 258.00,315.56 258.50,305.91 259.00,309.07 259.50,312.17 260.00,305.27 260.50,317.51 261.00,316.40 261.50,324.33 262.00,313.24 262.50,317.44 263.00,322.73 263.50,323.99 264.00,313.13 264.50,329.35 265.00,316.07 265.50,327.76 266.00,318.59 266.50,318.07 267.00,313.10 267.50,320.37 268.00,336.41 268.50,317.63 269.00,331.53 269.50,330.45 270.00,319.89 270.50,329.59 271.00,331.53 271.50,321.13 272.00,319.93 272.50,330.54 273.00,325.98 273.50,337.35 274.00,326.95 274.50,317.20 275.00,324.38 275.50,317.47 276.00,329.89 276.50,329.82 277.00,323.02 277.50,320.27 278.00,331.72 278.50,323.93 279.00,334.25 279.50,320.60 280.00,325.29 280.50,323.44 281.00,320.18 281.50,342.55 282.00,337.00 282.50,322.32 283.00,331.12 283.50,314.63 284.00,333.72 284.50,332.51 285.00,323.37 285.50,323.16 286.00,326.78 286.50,327.96 287.00,322.65 287.50,319.43 288.00,322.99 288.50,321.79 289.00,329.27 289.50,324.74 290.00,325.54 290.50,312.57 291.00,319.64 291.50,318.57 292.00,316.79 292.50,318.32 293.00,316.16 293.50,308.96 294.00,324.99 294.50,325.36 295.00,316.83 295.50,324.52 296.00,315.21 296.50,313.64 297.00,320.81 297.50,332.70 298.00,323.08 298.50,314.90 299.00,326.88 299.50,322.58 300.00,322.48 300.50,330.05 301.00,317.65 301.50,318.16 302.00,321.09 302.50,337.96 303.00,332.56 303.50,328.93 304.00,329.28 304.50,338.55 305.00,343.11 305.50,330.75 306.00,337.10 306.50,350.44 307.00,339.48 307.50,333.70 308.00,338.01 308.50,336.67 309.00,340.30 309.50,338.43 310.00,333.18 310.50,335.65 311.00,338.88 311.50,332.28 312.00,337.17 312.50,331.05 313.00,344.72 313.50,346.84 314.00,331.64 314.50,342.58 315.00,338.39 315.50,337.90 316.00,335.74 316.50,339.02 317.00,343.66 317.50,329.61 318.00,343.73 318.50,335.67 319.00,330.43 319.50,337.03 320.00,341.35 320.50,336.78 321.00,339.19 321.50,335.22 322.00,333.96 322.50,343.64 323.00,331.46 323.50,343.61 324.00,339.46 324.50,335.60 325.00,335.93 325.50,335.78 326.00,337.62 326.50,337.81 327.00,337.46 327.50,326.45 328.00,325.62 328.50,341.24 329.00,335.40 329.50,336.03 330.00,338.79 330.50,333.18 331.00,350.02 331.50,340.58 332.00,339.76 332.50,334.50 333.00,346.88 333.50,346.13 334.00,351.15 334.50,347.70 335.00,337.27 335.50,334.75 336.00,351.48 336.50,339.04 337.00,342.89 337.50,342.89 338.00,347.28 338.50,347.89 339.00,338.32 339.50,341.06 340.00,334.55 340.50,349.15 341.00,344.96 341.50,335.76 342.00,353.02 342.50,346.94 343.00,340.88 343.50,344.89 344.00,344.12 344.50,348.72 345.00,349.64 345.50,345.00 346.00,351.42 346.50,332.85 347.00,347.04 347.50,353.39 348.00,355.48 348.50,354.75 349.00,343.51 349.50,339.70 350.00,348.26 350.50,364.68 351.00,352.40 351.50,346.37 352.00,340.78 352.50,352.24 353.00,348.77 353.50,354.84 354.00,353.13 354.50,337.64 355.00,351.57 355.50,357.21 356.00,348.66 356.50,344.93 357.00,345.15 357.50,344.12 358.00,365.84 358.50,361.03 359.00,348.54 359.50,360.78 360.00,345.74 360.50,348.95 361.00,347.68 361.50,351.13" fill="none" stroke="#008080" stroke-width="2.3" stroke-linejoin="round" />
<rect x="234.4" y="216.2" width="138.9" height="158.60000000000002" fill="none" stroke="#1a1a1a" stroke-width="1.6"/>
<line x1="234.6" y1="374.8" x2="234.6" y2="370.8" stroke="#1a1a1a" stroke-width="1.5"/>
<line x1="327" y1="374.8" x2="327" y2="370.8" stroke="#1a1a1a" stroke-width="1.5"/>
<line x1="280.7" y1="374.8" x2="280.7" y2="372.8" stroke="#1a1a1a" stroke-width="1.3"/>
<text x="234.6" y="389.9" font-size="14" text-anchor="middle" fill="#0d0d0d" stroke="#0d0d0d" stroke-width="0.2" >1.2</text>
<text x="326.8" y="389.9" font-size="14" text-anchor="middle" fill="#0d0d0d" stroke="#0d0d0d" stroke-width="0.2" >1.6</text>
<text x="285.9" y="407.8" font-size="15" textLength="31.00" lengthAdjust="spacingAndGlyphs" fill="#0d0d0d" stroke="#0d0d0d" stroke-width="0.2">d (Å)</text>
<text transform="translate(224.1,359.2) rotate(-90)" x="0" y="0" font-size="14.8" textLength="127.20" lengthAdjust="spacingAndGlyphs" fill="#0d0d0d" stroke="#0d0d0d" stroke-width="0.2">Intensity (arb. units)</text>
<text x="216.6" y="223.6" font-size="23" text-anchor="start" fill="#111" stroke="#111" stroke-width="0.2" >c</text>
<text x="267.8" y="243.6" font-size="11.5" text-anchor="start" fill="#0d0d0d" stroke="#0d0d0d" stroke-width="0.2" >{211}</text>
<text x="293.3" y="245.5" font-size="11.5" text-anchor="start" fill="#0d0d0d" stroke="#0d0d0d" stroke-width="0.2" >SRO</text>
<text x="316.4" y="259.4" font-size="11.5" text-anchor="start" fill="#0d0d0d" stroke="#0d0d0d" stroke-width="0.2" >{210}</text>
<text x="343.2" y="262" font-size="11.5" text-anchor="start" fill="#0d0d0d" stroke="#0d0d0d" stroke-width="0.2" >SRO</text>
<rect x="401.0" y="8.0" width="126.0" height="158.6" fill="#fdfdf4" stroke="none"/>
<clipPath id="cd"><rect x="401.0" y="8.0" width="126.0" height="158.6"/></clipPath>
<g clip-path="url(#cd)">
<polyline points="401.00,151.30 415.00,150.80 430.00,149.70 439.00,149.40 444.40,147.60 448.90,142.50 451.60,133.60 454.20,115.60 456.90,90.40 459.60,67.10 463.20,50.90 465.90,61.70 468.60,83.30 471.30,106.60 474.00,126.40 477.60,138.90 482.10,145.20 490.00,148.30 505.00,150.30 527.00,150.60" fill="none" stroke="#008080" stroke-width="2.1" stroke-linejoin="round" />
<polyline points="401.00,149.20 415.00,149.10 430.00,148.80 437.20,147.90 441.70,145.20 445.30,139.00 448.00,126.40 450.70,104.80 453.40,74.30 456.00,45.50 457.30,24.00 460.50,22.20 462.30,34.80 465.00,54.50 467.70,81.50 470.40,108.40 473.10,130.00 476.70,141.60 482.10,147.00 490.00,148.80 505.00,149.30 527.00,149.60" fill="none" stroke="#cc0000" stroke-width="2.1" stroke-linejoin="round" />
<line x1="459.6" y1="24" x2="459.6" y2="166.6" stroke="#cc0000" stroke-width="1.1" stroke-dasharray="2.9,1.9"/>
<line x1="464.1" y1="52" x2="464.1" y2="166.6" stroke="#0a8e8e" stroke-width="1.1" stroke-dasharray="2.9,1.9"/>
</g>
<rect x="401.0" y="8.0" width="126.0" height="158.6" fill="none" stroke="#1a1a1a" stroke-width="1.6"/>
<line x1="455.4" y1="166.6" x2="455.4" y2="162.6" stroke="#1a1a1a" stroke-width="1.5"/>
<line x1="527" y1="166.6" x2="527" y2="162.6" stroke="#1a1a1a" stroke-width="1.5"/>
<line x1="418.5" y1="166.6" x2="418.5" y2="164.4" stroke="#1a1a1a" stroke-width="1.3"/>
<line x1="490.9" y1="166.6" x2="490.9" y2="164.4" stroke="#1a1a1a" stroke-width="1.3"/>
<text x="455.8" y="182.7" font-size="14.2" text-anchor="middle" fill="#0d0d0d" stroke="#0d0d0d" stroke-width="0.2" >1.08</text>
<text x="527.4" y="182.7" font-size="14.2" text-anchor="middle" fill="#0d0d0d" stroke="#0d0d0d" stroke-width="0.2" >1.10</text>
<text x="449.6" y="202.7" font-size="15" textLength="31.50" lengthAdjust="spacingAndGlyphs" fill="#0d0d0d" stroke="#0d0d0d" stroke-width="0.2">d (Å)</text>
<text transform="translate(392.8,151.5) rotate(-90)" x="0" y="0" font-size="14.8" textLength="128.40" lengthAdjust="spacingAndGlyphs" fill="#0d0d0d" stroke="#0d0d0d" stroke-width="0.2">Intensity (arb. units)</text>
<text x="381.6" y="16.9" font-size="22.3" text-anchor="start" fill="#111" stroke="#111" stroke-width="0.2" >d</text>
<rect x="401.8" y="216.3" width="124.90000000000003" height="155.8" fill="#fdfdf4" stroke="none"/>
<clipPath id="ce"><rect x="401.8" y="216.3" width="124.90000000000003" height="155.8"/></clipPath>
<g clip-path="url(#ce)">
<polyline points="401.80,362.80 420.00,362.70 427.40,362.30 434.00,360.80 438.60,357.10 442.30,349.70 446.00,334.80 449.80,314.30 453.50,288.30 457.20,272.40 459.40,267.40 463.70,279.00 467.40,299.40 471.20,319.90 475.80,338.50 479.50,349.70 484.20,357.10 489.80,360.80 500.00,361.70 526.70,362.20" fill="none" stroke="#008080" stroke-width="2.1" stroke-linejoin="round" />
<polyline points="401.80,362.00 420.00,362.30 425.60,360.80 430.20,357.10 434.00,351.50 437.70,336.60 441.40,310.60 446.00,277.10 450.70,243.60 455.00,239.50 457.20,251.00 460.00,265.90 463.70,292.00 467.40,314.30 471.20,334.80 475.80,349.70 481.40,358.00 488.80,360.80 500.00,362.30 526.70,361.80" fill="none" stroke="#cc0000" stroke-width="2.1" stroke-linejoin="round" />
<line x1="454.4" y1="242" x2="454.4" y2="372.1" stroke="#cc0000" stroke-width="1.1" stroke-dasharray="2.9,1.9"/>
<line x1="459.5" y1="269" x2="459.5" y2="372.1" stroke="#0a8e8e" stroke-width="1.1" stroke-dasharray="2.9,1.9"/>
</g>
<rect x="401.8" y="216.3" width="124.90000000000003" height="155.8" fill="none" stroke="#1a1a1a" stroke-width="1.6"/>
<line x1="422.4" y1="372.1" x2="422.4" y2="368.1" stroke="#1a1a1a" stroke-width="1.5"/>
<line x1="505.5" y1="372.1" x2="505.5" y2="368.1" stroke="#1a1a1a" stroke-width="1.5"/>
<line x1="463.9" y1="372.1" x2="463.9" y2="369.90000000000003" stroke="#1a1a1a" stroke-width="1.3"/>
<text x="422.4" y="389.3" font-size="14.2" text-anchor="middle" fill="#0d0d0d" stroke="#0d0d0d" stroke-width="0.2" >1.26</text>
<text x="505.5" y="389.3" font-size="14.2" text-anchor="middle" fill="#0d0d0d" stroke="#0d0d0d" stroke-width="0.2" >1.28</text>
<text x="445.5" y="406.2" font-size="15" textLength="31.00" lengthAdjust="spacingAndGlyphs" fill="#0d0d0d" stroke="#0d0d0d" stroke-width="0.2">d (Å)</text>
<text transform="translate(393.6,357.4) rotate(-90)" x="0" y="0" font-size="14.8" textLength="126.30" lengthAdjust="spacingAndGlyphs" fill="#0d0d0d" stroke="#0d0d0d" stroke-width="0.2">Intensity (arb. units)</text>
<text x="381.5" y="225.1" font-size="23" text-anchor="start" fill="#111" stroke="#111" stroke-width="0.2" >e</text>
<rect x="558.2" y="8.0" width="126.09999999999991" height="158.7" fill="#fdfdf4" stroke="none"/>
<clipPath id="cf"><rect x="558.2" y="8.0" width="126.09999999999991" height="158.7"/></clipPath>
<g clip-path="url(#cf)">
<polyline points="558.00,150.90 568.80,150.80 580.50,149.10 587.70,145.00 594.00,137.80 600.30,122.50 605.70,102.70 612.00,74.00 617.40,57.80 622.70,60.50 629.00,78.50 635.30,99.10 641.60,124.30 647.90,138.70 653.30,145.90 658.00,148.10 670.00,149.20 683.60,149.80" fill="none" stroke="#008080" stroke-width="2.1" stroke-linejoin="round" />
<polyline points="558.00,149.90 568.80,148.80 575.10,146.40 581.40,139.60 587.70,125.20 593.10,104.50 598.50,79.40 604.80,40.70 611.10,28.10 617.40,41.60 622.70,63.20 629.00,91.90 635.30,123.40 641.60,138.70 647.90,145.90 658.00,148.60 670.00,149.50 683.60,150.00" fill="none" stroke="#cc0000" stroke-width="2.1" stroke-linejoin="round" />
<line x1="611.1" y1="30" x2="611.1" y2="166.7" stroke="#cc0000" stroke-width="1.1" stroke-dasharray="2.9,1.9"/>
<line x1="618.3" y1="59" x2="618.3" y2="166.7" stroke="#0a8e8e" stroke-width="1.1" stroke-dasharray="2.9,1.9"/>
</g>
<rect x="558.2" y="8.0" width="126.09999999999991" height="158.7" fill="none" stroke="#1a1a1a" stroke-width="1.6"/>
<line x1="558.2" y1="166.7" x2="558.2" y2="162.7" stroke="#1a1a1a" stroke-width="1.5"/>
<line x1="642.1" y1="166.7" x2="642.1" y2="162.7" stroke="#1a1a1a" stroke-width="1.5"/>
<line x1="600.2" y1="166.7" x2="600.2" y2="164.5" stroke="#1a1a1a" stroke-width="1.3"/>
<text x="558.7" y="183.3" font-size="14.2" text-anchor="middle" fill="#0d0d0d" stroke="#0d0d0d" stroke-width="0.2" >1.78</text>
<text x="642.1" y="183.3" font-size="14.2" text-anchor="middle" fill="#0d0d0d" stroke="#0d0d0d" stroke-width="0.2" >1.80</text>
<text x="608" y="201.9" font-size="15" textLength="31.40" lengthAdjust="spacingAndGlyphs" fill="#0d0d0d" stroke="#0d0d0d" stroke-width="0.2">d (Å)</text>
<text transform="translate(549.5,152.7) rotate(-90)" x="0" y="0" font-size="14.8" textLength="129.60" lengthAdjust="spacingAndGlyphs" fill="#0d0d0d" stroke="#0d0d0d" stroke-width="0.2">Intensity (arb. units)</text>
<text x="543.5" y="17.3" font-size="22.3" text-anchor="start" fill="#111" stroke="#111" stroke-width="0.2" >f</text>
<rect x="560.6" y="216.8" width="123.69999999999993" height="155.7" fill="#fdfdf4" stroke="none"/>
<clipPath id="cg"><rect x="560.6" y="216.8" width="123.69999999999993" height="155.7"/></clipPath>
<g clip-path="url(#cg)">
<polyline points="560.60,358.30 585.00,358.40 595.80,358.00 603.00,356.20 606.60,352.60 610.20,343.70 613.80,327.50 617.40,304.10 621.00,278.90 624.20,267.20 626.30,263.70 629.00,267.20 631.70,280.70 635.30,304.10 638.90,325.70 642.50,341.90 647.00,351.70 653.30,356.20 665.00,357.70 683.60,358.00" fill="none" stroke="#008080" stroke-width="2.1" stroke-linejoin="round" />
<polyline points="560.60,358.00 585.00,358.00 595.80,357.10 601.20,353.50 604.80,347.20 608.40,331.10 612.00,304.10 615.60,271.70 619.20,243.00 622.40,234.00 625.40,243.00 628.10,257.40 630.80,282.50 633.50,307.70 637.10,331.10 640.70,346.30 645.20,353.50 651.50,356.80 665.00,358.00 683.60,358.00" fill="none" stroke="#cc0000" stroke-width="2.1" stroke-linejoin="round" />
<line x1="622.4" y1="236" x2="622.4" y2="372.5" stroke="#cc0000" stroke-width="1.1" stroke-dasharray="2.9,1.9"/>
<line x1="627.2" y1="265" x2="627.2" y2="372.5" stroke="#0a8e8e" stroke-width="1.1" stroke-dasharray="2.9,1.9"/>
</g>
<rect x="560.6" y="216.8" width="123.69999999999993" height="155.7" fill="none" stroke="#1a1a1a" stroke-width="1.6"/>
<line x1="560.6" y1="372.5" x2="560.6" y2="368.5" stroke="#1a1a1a" stroke-width="1.5"/>
<line x1="643" y1="372.5" x2="643" y2="368.5" stroke="#1a1a1a" stroke-width="1.5"/>
<line x1="601.7" y1="372.5" x2="601.7" y2="370.3" stroke="#1a1a1a" stroke-width="1.3"/>
<text x="560.5" y="388.4" font-size="14.2" text-anchor="middle" fill="#0d0d0d" stroke="#0d0d0d" stroke-width="0.2" >2.04</text>
<text x="643" y="388.4" font-size="14.2" text-anchor="middle" fill="#0d0d0d" stroke="#0d0d0d" stroke-width="0.2" >2.08</text>
<text x="602" y="406.7" font-size="15" textLength="30.20" lengthAdjust="spacingAndGlyphs" fill="#0d0d0d" stroke="#0d0d0d" stroke-width="0.2">d (Å)</text>
<text transform="translate(551.5,356.6) rotate(-90)" x="0" y="0" font-size="14.8" textLength="125.50" lengthAdjust="spacingAndGlyphs" fill="#0d0d0d" stroke="#0d0d0d" stroke-width="0.2">Intensity (arb. units)</text>
<text x="542.2" y="222.0" font-size="23" text-anchor="start" fill="#111" stroke="#111" stroke-width="0.2" >g</text>
<rect x="14" y="436.2" width="163" height="166.5" fill="#000"/>
<rect x="183" y="436.2" width="163" height="166.5" fill="#000"/>
<rect x="352" y="436.2" width="163" height="166.5" fill="#000"/>
<rect x="521" y="436.2" width="163" height="166.5" fill="#000"/>
<rect x="14" y="611.1" width="163" height="166.5" fill="#000"/>
<rect x="183" y="611.1" width="163" height="166.5" fill="#000"/>
<rect x="352" y="611.1" width="163" height="166.5" fill="#000"/>
<rect x="521" y="611.1" width="163" height="166.5" fill="#000"/>
<clipPath id="cNi"><rect x="14" y="436.2" width="163" height="166.5"/></clipPath>
<g clip-path="url(#cNi)"><g filter="url(#f150_114)">
<rect x="2" y="424.2" width="187" height="190.5" fill="#000"/>
<ellipse cx="63.27" cy="441.38" rx="3.98" ry="2.77" transform="rotate(-80 63.27 441.38)" fill="#757500"/>
<ellipse cx="119.85" cy="439.48" rx="3.84" ry="2.67" transform="rotate(-80 119.85 439.48)" fill="#5a5a00"/>
<ellipse cx="27.83" cy="448.60" rx="3.91" ry="2.72" transform="rotate(-80 27.83 448.60)" fill="#686800"/>
<ellipse cx="84.41" cy="446.70" rx="3.63" ry="2.53" transform="rotate(-80 84.41 446.70)" fill="#353500"/>
<ellipse cx="140.99" cy="444.80" rx="3.70" ry="2.58" transform="rotate(-80 140.99 444.80)" fill="#414100"/>
<ellipse cx="48.97" cy="453.92" rx="3.77" ry="2.62" transform="rotate(-80 48.97 453.92)" fill="#4d4d00"/>
<ellipse cx="105.55" cy="452.02" rx="3.56" ry="2.48" transform="rotate(-80 105.55 452.02)" fill="#2a2a00"/>
<ellipse cx="162.13" cy="450.12" rx="3.56" ry="2.48" transform="rotate(-80 162.13 450.12)" fill="#2a2a00"/>
<ellipse cx="70.11" cy="459.24" rx="4.32" ry="3.01" transform="rotate(-80 70.11 459.24)" fill="#bfbf00"/>
<ellipse cx="126.69" cy="457.34" rx="4.39" ry="3.06" transform="rotate(-80 126.69 457.34)" fill="#cece00"/>
<ellipse cx="34.67" cy="466.46" rx="3.84" ry="2.67" transform="rotate(-80 34.67 466.46)" fill="#5a5a00"/>
<ellipse cx="91.25" cy="464.56" rx="4.39" ry="3.06" transform="rotate(-80 91.25 464.56)" fill="#cece00"/>
<ellipse cx="147.83" cy="462.66" rx="3.50" ry="2.43" transform="rotate(-80 147.83 462.66)" fill="#1f1f00"/>
<ellipse cx="55.81" cy="471.78" rx="3.70" ry="2.58" transform="rotate(-80 55.81 471.78)" fill="#414100"/>
<ellipse cx="112.39" cy="469.88" rx="4.12" ry="2.86" transform="rotate(-80 112.39 469.88)" fill="#929200"/>
<ellipse cx="168.97" cy="467.98" rx="3.56" ry="2.48" transform="rotate(-80 168.97 467.98)" fill="#2a2a00"/>
<ellipse cx="20.37" cy="479.00" rx="3.91" ry="2.72" transform="rotate(-80 20.37 479.00)" fill="#686800"/>
<ellipse cx="76.95" cy="477.10" rx="4.32" ry="3.01" transform="rotate(-80 76.95 477.10)" fill="#bfbf00"/>
<ellipse cx="133.53" cy="475.20" rx="4.32" ry="3.01" transform="rotate(-80 133.53 475.20)" fill="#bfbf00"/>
<ellipse cx="41.51" cy="484.32" rx="3.91" ry="2.72" transform="rotate(-80 41.51 484.32)" fill="#686800"/>
<ellipse cx="98.09" cy="482.42" rx="3.91" ry="2.72" transform="rotate(-80 98.09 482.42)" fill="#686800"/>
<ellipse cx="154.67" cy="480.52" rx="3.91" ry="2.72" transform="rotate(-80 154.67 480.52)" fill="#686800"/>
<ellipse cx="62.65" cy="489.64" rx="4.25" ry="2.96" transform="rotate(-80 62.65 489.64)" fill="#afaf00"/>
<ellipse cx="119.23" cy="487.74" rx="4.39" ry="3.06" transform="rotate(-80 119.23 487.74)" fill="#cece00"/>
<ellipse cx="27.21" cy="496.86" rx="4.05" ry="2.82" transform="rotate(-80 27.21 496.86)" fill="#838300"/>
<ellipse cx="83.79" cy="494.96" rx="4.39" ry="3.06" transform="rotate(-80 83.79 494.96)" fill="#cece00"/>
<ellipse cx="140.37" cy="493.06" rx="4.60" ry="3.20" transform="rotate(-80 140.37 493.06)" fill="#ffff00"/>
<ellipse cx="48.35" cy="502.18" rx="4.32" ry="3.01" transform="rotate(-80 48.35 502.18)" fill="#bfbf00"/>
<ellipse cx="104.93" cy="500.28" rx="3.98" ry="2.77" transform="rotate(-80 104.93 500.28)" fill="#757500"/>
<ellipse cx="161.51" cy="498.38" rx="3.70" ry="2.58" transform="rotate(-80 161.51 498.38)" fill="#414100"/>
<ellipse cx="69.49" cy="507.50" rx="4.46" ry="3.10" transform="rotate(-80 69.49 507.50)" fill="#dede00"/>
<ellipse cx="126.07" cy="505.60" rx="4.32" ry="3.01" transform="rotate(-80 126.07 505.60)" fill="#bfbf00"/>
<ellipse cx="34.05" cy="514.72" rx="3.77" ry="2.62" transform="rotate(-80 34.05 514.72)" fill="#4d4d00"/>
<ellipse cx="90.63" cy="512.82" rx="3.70" ry="2.58" transform="rotate(-80 90.63 512.82)" fill="#414100"/>
<ellipse cx="147.21" cy="510.92" rx="4.32" ry="3.01" transform="rotate(-80 147.21 510.92)" fill="#bfbf00"/>
<ellipse cx="55.19" cy="520.04" rx="4.32" ry="3.01" transform="rotate(-80 55.19 520.04)" fill="#bfbf00"/>
<ellipse cx="111.77" cy="518.14" rx="4.25" ry="2.96" transform="rotate(-80 111.77 518.14)" fill="#afaf00"/>
<ellipse cx="168.35" cy="516.24" rx="3.63" ry="2.53" transform="rotate(-80 168.35 516.24)" fill="#353500"/>
<ellipse cx="19.75" cy="527.26" rx="3.98" ry="2.77" transform="rotate(-80 19.75 527.26)" fill="#757500"/>
<ellipse cx="76.33" cy="525.36" rx="4.60" ry="3.20" transform="rotate(-80 76.33 525.36)" fill="#ffff00"/>
<ellipse cx="132.91" cy="523.46" rx="4.32" ry="3.01" transform="rotate(-80 132.91 523.46)" fill="#bfbf00"/>
<ellipse cx="40.89" cy="532.58" rx="4.25" ry="2.96" transform="rotate(-80 40.89 532.58)" fill="#afaf00"/>
<ellipse cx="97.47" cy="530.68" rx="3.70" ry="2.58" transform="rotate(-80 97.47 530.68)" fill="#414100"/>
<ellipse cx="154.05" cy="528.78" rx="3.70" ry="2.58" transform="rotate(-80 154.05 528.78)" fill="#414100"/>
<ellipse cx="62.03" cy="537.90" rx="4.39" ry="3.06" transform="rotate(-80 62.03 537.90)" fill="#cece00"/>
<ellipse cx="118.61" cy="536.00" rx="4.25" ry="2.96" transform="rotate(-80 118.61 536.00)" fill="#afaf00"/>
<ellipse cx="26.59" cy="545.12" rx="3.63" ry="2.53" transform="rotate(-80 26.59 545.12)" fill="#353500"/>
<ellipse cx="83.17" cy="543.22" rx="4.53" ry="3.15" transform="rotate(-80 83.17 543.22)" fill="#efef00"/>
<ellipse cx="139.75" cy="541.32" rx="3.70" ry="2.58" transform="rotate(-80 139.75 541.32)" fill="#414100"/>
<ellipse cx="47.73" cy="550.44" rx="4.53" ry="3.15" transform="rotate(-80 47.73 550.44)" fill="#efef00"/>
<ellipse cx="104.31" cy="548.54" rx="4.39" ry="3.06" transform="rotate(-80 104.31 548.54)" fill="#cece00"/>
<ellipse cx="160.89" cy="546.64" rx="3.63" ry="2.53" transform="rotate(-80 160.89 546.64)" fill="#353500"/>
<ellipse cx="68.87" cy="555.76" rx="4.05" ry="2.82" transform="rotate(-80 68.87 555.76)" fill="#838300"/>
<ellipse cx="125.45" cy="553.86" rx="4.32" ry="3.01" transform="rotate(-80 125.45 553.86)" fill="#bfbf00"/>
<ellipse cx="33.43" cy="562.98" rx="4.25" ry="2.96" transform="rotate(-80 33.43 562.98)" fill="#afaf00"/>
<ellipse cx="90.01" cy="561.08" rx="3.70" ry="2.58" transform="rotate(-80 90.01 561.08)" fill="#414100"/>
<ellipse cx="146.59" cy="559.18" rx="4.05" ry="2.82" transform="rotate(-80 146.59 559.18)" fill="#838300"/>
<ellipse cx="54.57" cy="568.30" rx="3.98" ry="2.77" transform="rotate(-80 54.57 568.30)" fill="#757500"/>
<ellipse cx="111.15" cy="566.40" rx="3.98" ry="2.77" transform="rotate(-80 111.15 566.40)" fill="#757500"/>
<ellipse cx="167.73" cy="564.50" rx="3.63" ry="2.53" transform="rotate(-80 167.73 564.50)" fill="#353500"/>
<ellipse cx="19.13" cy="575.52" rx="4.05" ry="2.82" transform="rotate(-80 19.13 575.52)" fill="#838300"/>
<ellipse cx="75.71" cy="573.62" rx="4.53" ry="3.15" transform="rotate(-80 75.71 573.62)" fill="#efef00"/>
<ellipse cx="132.29" cy="571.72" rx="4.53" ry="3.15" transform="rotate(-80 132.29 571.72)" fill="#efef00"/>
<ellipse cx="40.27" cy="580.84" rx="3.91" ry="2.72" transform="rotate(-80 40.27 580.84)" fill="#686800"/>
<ellipse cx="96.85" cy="578.94" rx="4.25" ry="2.96" transform="rotate(-80 96.85 578.94)" fill="#afaf00"/>
<ellipse cx="153.43" cy="577.04" rx="3.63" ry="2.53" transform="rotate(-80 153.43 577.04)" fill="#353500"/>
<ellipse cx="61.41" cy="586.16" rx="4.32" ry="3.01" transform="rotate(-80 61.41 586.16)" fill="#bfbf00"/>
<ellipse cx="117.99" cy="584.26" rx="3.63" ry="2.53" transform="rotate(-80 117.99 584.26)" fill="#353500"/>
<ellipse cx="25.97" cy="593.38" rx="3.63" ry="2.53" transform="rotate(-80 25.97 593.38)" fill="#353500"/>
<ellipse cx="82.55" cy="591.48" rx="3.91" ry="2.72" transform="rotate(-80 82.55 591.48)" fill="#686800"/>
<ellipse cx="139.13" cy="589.58" rx="3.77" ry="2.62" transform="rotate(-80 139.13 589.58)" fill="#4d4d00"/>
<ellipse cx="47.11" cy="598.70" rx="3.63" ry="2.53" transform="rotate(-80 47.11 598.70)" fill="#353500"/>
<ellipse cx="103.69" cy="596.80" rx="3.84" ry="2.67" transform="rotate(-80 103.69 596.80)" fill="#5a5a00"/>
<ellipse cx="160.27" cy="594.90" rx="3.63" ry="2.53" transform="rotate(-80 160.27 594.90)" fill="#353500"/>
<ellipse cx="68.25" cy="604.02" rx="3.63" ry="2.53" transform="rotate(-80 68.25 604.02)" fill="#353500"/>
<ellipse cx="124.83" cy="602.12" rx="3.70" ry="2.58" transform="rotate(-80 124.83 602.12)" fill="#414100"/>
<ellipse cx="175.81" cy="485.84" rx="3.56" ry="2.48" transform="rotate(-80 175.81 485.84)" fill="#2a2a00"/>
<ellipse cx="175.19" cy="534.10" rx="3.50" ry="2.43" transform="rotate(-80 175.19 534.10)" fill="#1f1f00"/>
<ellipse cx="174.57" cy="582.36" rx="3.50" ry="2.43" transform="rotate(-80 174.57 582.36)" fill="#1f1f00"/>
<ellipse cx="12.91" cy="509.40" rx="3.63" ry="2.53" transform="rotate(-80 12.91 509.40)" fill="#353500"/>
<ellipse cx="12.29" cy="557.66" rx="3.77" ry="2.62" transform="rotate(-80 12.29 557.66)" fill="#4d4d00"/>
</g></g>
<clipPath id="cCr"><rect x="183" y="436.2" width="163" height="166.5"/></clipPath>
<g clip-path="url(#cCr)"><g filter="url(#f150_114)">
<rect x="171" y="424.2" width="187" height="190.5" fill="#000"/>
<ellipse cx="232.27" cy="441.38" rx="3.81" ry="2.59" transform="rotate(-68 232.27 441.38)" fill="#007575"/>
<ellipse cx="288.85" cy="439.48" rx="3.54" ry="2.42" transform="rotate(-68 288.85 439.48)" fill="#004141"/>
<ellipse cx="196.83" cy="448.60" rx="3.48" ry="2.37" transform="rotate(-68 196.83 448.60)" fill="#003535"/>
<ellipse cx="253.41" cy="446.70" rx="3.54" ry="2.42" transform="rotate(-68 253.41 446.70)" fill="#004141"/>
<ellipse cx="309.99" cy="444.80" rx="4.07" ry="2.78" transform="rotate(-68 309.99 444.80)" fill="#00afaf"/>
<ellipse cx="217.97" cy="453.92" rx="3.74" ry="2.55" transform="rotate(-68 217.97 453.92)" fill="#006868"/>
<ellipse cx="274.55" cy="452.02" rx="3.34" ry="2.28" transform="rotate(-68 274.55 452.02)" fill="#001f1f"/>
<ellipse cx="331.13" cy="450.12" rx="3.48" ry="2.37" transform="rotate(-68 331.13 450.12)" fill="#003535"/>
<ellipse cx="239.11" cy="459.24" rx="3.74" ry="2.55" transform="rotate(-68 239.11 459.24)" fill="#006868"/>
<ellipse cx="295.69" cy="457.34" rx="3.61" ry="2.46" transform="rotate(-68 295.69 457.34)" fill="#004d4d"/>
<ellipse cx="203.67" cy="466.46" rx="3.87" ry="2.64" transform="rotate(-68 203.67 466.46)" fill="#008383"/>
<ellipse cx="260.25" cy="464.56" rx="4.00" ry="2.73" transform="rotate(-68 260.25 464.56)" fill="#00a0a0"/>
<ellipse cx="316.83" cy="462.66" rx="4.07" ry="2.78" transform="rotate(-68 316.83 462.66)" fill="#00afaf"/>
<ellipse cx="224.81" cy="471.78" rx="3.74" ry="2.55" transform="rotate(-68 224.81 471.78)" fill="#006868"/>
<ellipse cx="281.39" cy="469.88" rx="3.54" ry="2.42" transform="rotate(-68 281.39 469.88)" fill="#004141"/>
<ellipse cx="337.97" cy="467.98" rx="3.74" ry="2.55" transform="rotate(-68 337.97 467.98)" fill="#006868"/>
<ellipse cx="189.37" cy="479.00" rx="4.14" ry="2.82" transform="rotate(-68 189.37 479.00)" fill="#00bfbf"/>
<ellipse cx="245.95" cy="477.10" rx="3.61" ry="2.46" transform="rotate(-68 245.95 477.10)" fill="#004d4d"/>
<ellipse cx="302.53" cy="475.20" rx="4.00" ry="2.73" transform="rotate(-68 302.53 475.20)" fill="#00a0a0"/>
<ellipse cx="210.51" cy="484.32" rx="3.87" ry="2.64" transform="rotate(-68 210.51 484.32)" fill="#008383"/>
<ellipse cx="267.09" cy="482.42" rx="3.81" ry="2.59" transform="rotate(-68 267.09 482.42)" fill="#007575"/>
<ellipse cx="323.67" cy="480.52" rx="3.54" ry="2.42" transform="rotate(-68 323.67 480.52)" fill="#004141"/>
<ellipse cx="231.65" cy="489.64" rx="3.41" ry="2.32" transform="rotate(-68 231.65 489.64)" fill="#002a2a"/>
<ellipse cx="288.23" cy="487.74" rx="4.07" ry="2.78" transform="rotate(-68 288.23 487.74)" fill="#00afaf"/>
<ellipse cx="196.21" cy="496.86" rx="4.20" ry="2.86" transform="rotate(-68 196.21 496.86)" fill="#00cece"/>
<ellipse cx="252.79" cy="494.96" rx="4.14" ry="2.82" transform="rotate(-68 252.79 494.96)" fill="#00bfbf"/>
<ellipse cx="309.37" cy="493.06" rx="3.48" ry="2.37" transform="rotate(-68 309.37 493.06)" fill="#003535"/>
<ellipse cx="217.35" cy="502.18" rx="3.54" ry="2.42" transform="rotate(-68 217.35 502.18)" fill="#004141"/>
<ellipse cx="273.93" cy="500.28" rx="4.14" ry="2.82" transform="rotate(-68 273.93 500.28)" fill="#00bfbf"/>
<ellipse cx="330.51" cy="498.38" rx="3.81" ry="2.59" transform="rotate(-68 330.51 498.38)" fill="#007575"/>
<ellipse cx="238.49" cy="507.50" rx="4.27" ry="2.91" transform="rotate(-68 238.49 507.50)" fill="#00dede"/>
<ellipse cx="295.07" cy="505.60" rx="4.07" ry="2.78" transform="rotate(-68 295.07 505.60)" fill="#00afaf"/>
<ellipse cx="203.05" cy="514.72" rx="4.20" ry="2.86" transform="rotate(-68 203.05 514.72)" fill="#00cece"/>
<ellipse cx="259.63" cy="512.82" rx="4.27" ry="2.91" transform="rotate(-68 259.63 512.82)" fill="#00dede"/>
<ellipse cx="316.21" cy="510.92" rx="4.14" ry="2.82" transform="rotate(-68 316.21 510.92)" fill="#00bfbf"/>
<ellipse cx="224.19" cy="520.04" rx="4.14" ry="2.82" transform="rotate(-68 224.19 520.04)" fill="#00bfbf"/>
<ellipse cx="280.77" cy="518.14" rx="3.87" ry="2.64" transform="rotate(-68 280.77 518.14)" fill="#008383"/>
<ellipse cx="337.35" cy="516.24" rx="3.74" ry="2.55" transform="rotate(-68 337.35 516.24)" fill="#006868"/>
<ellipse cx="188.75" cy="527.26" rx="3.87" ry="2.64" transform="rotate(-68 188.75 527.26)" fill="#008383"/>
<ellipse cx="245.33" cy="525.36" rx="4.33" ry="2.96" transform="rotate(-68 245.33 525.36)" fill="#00efef"/>
<ellipse cx="301.91" cy="523.46" rx="3.94" ry="2.69" transform="rotate(-68 301.91 523.46)" fill="#009292"/>
<ellipse cx="209.89" cy="532.58" rx="4.27" ry="2.91" transform="rotate(-68 209.89 532.58)" fill="#00dede"/>
<ellipse cx="266.47" cy="530.68" rx="4.07" ry="2.78" transform="rotate(-68 266.47 530.68)" fill="#00afaf"/>
<ellipse cx="323.05" cy="528.78" rx="3.74" ry="2.55" transform="rotate(-68 323.05 528.78)" fill="#006868"/>
<ellipse cx="231.03" cy="537.90" rx="3.87" ry="2.64" transform="rotate(-68 231.03 537.90)" fill="#008383"/>
<ellipse cx="287.61" cy="536.00" rx="3.94" ry="2.69" transform="rotate(-68 287.61 536.00)" fill="#009292"/>
<ellipse cx="195.59" cy="545.12" rx="3.87" ry="2.64" transform="rotate(-68 195.59 545.12)" fill="#008383"/>
<ellipse cx="252.17" cy="543.22" rx="4.27" ry="2.91" transform="rotate(-68 252.17 543.22)" fill="#00dede"/>
<ellipse cx="308.75" cy="541.32" rx="4.20" ry="2.86" transform="rotate(-68 308.75 541.32)" fill="#00cece"/>
<ellipse cx="216.73" cy="550.44" rx="3.48" ry="2.37" transform="rotate(-68 216.73 550.44)" fill="#003535"/>
<ellipse cx="273.31" cy="548.54" rx="3.48" ry="2.37" transform="rotate(-68 273.31 548.54)" fill="#003535"/>
<ellipse cx="329.89" cy="546.64" rx="3.67" ry="2.50" transform="rotate(-68 329.89 546.64)" fill="#005a5a"/>
<ellipse cx="237.87" cy="555.76" rx="4.20" ry="2.86" transform="rotate(-68 237.87 555.76)" fill="#00cece"/>
<ellipse cx="294.45" cy="553.86" rx="4.07" ry="2.78" transform="rotate(-68 294.45 553.86)" fill="#00afaf"/>
<ellipse cx="202.43" cy="562.98" rx="3.41" ry="2.32" transform="rotate(-68 202.43 562.98)" fill="#002a2a"/>
<ellipse cx="259.01" cy="561.08" rx="3.74" ry="2.55" transform="rotate(-68 259.01 561.08)" fill="#006868"/>
<ellipse cx="315.59" cy="559.18" rx="3.87" ry="2.64" transform="rotate(-68 315.59 559.18)" fill="#008383"/>
<ellipse cx="223.57" cy="568.30" rx="4.14" ry="2.82" transform="rotate(-68 223.57 568.30)" fill="#00bfbf"/>
<ellipse cx="280.15" cy="566.40" rx="3.74" ry="2.55" transform="rotate(-68 280.15 566.40)" fill="#006868"/>
<ellipse cx="336.73" cy="564.50" rx="3.87" ry="2.64" transform="rotate(-68 336.73 564.50)" fill="#008383"/>
<ellipse cx="188.13" cy="575.52" rx="3.48" ry="2.37" transform="rotate(-68 188.13 575.52)" fill="#003535"/>
<ellipse cx="244.71" cy="573.62" rx="3.41" ry="2.32" transform="rotate(-68 244.71 573.62)" fill="#002a2a"/>
<ellipse cx="301.29" cy="571.72" rx="3.67" ry="2.50" transform="rotate(-68 301.29 571.72)" fill="#005a5a"/>
<ellipse cx="209.27" cy="580.84" rx="4.20" ry="2.86" transform="rotate(-68 209.27 580.84)" fill="#00cece"/>
<ellipse cx="265.85" cy="578.94" rx="3.94" ry="2.69" transform="rotate(-68 265.85 578.94)" fill="#009292"/>
<ellipse cx="322.43" cy="577.04" rx="4.07" ry="2.78" transform="rotate(-68 322.43 577.04)" fill="#00afaf"/>
<ellipse cx="230.41" cy="586.16" rx="3.48" ry="2.37" transform="rotate(-68 230.41 586.16)" fill="#003535"/>
<ellipse cx="286.99" cy="584.26" rx="3.87" ry="2.64" transform="rotate(-68 286.99 584.26)" fill="#008383"/>
<ellipse cx="194.97" cy="593.38" rx="3.61" ry="2.46" transform="rotate(-68 194.97 593.38)" fill="#004d4d"/>
<ellipse cx="251.55" cy="591.48" rx="3.94" ry="2.69" transform="rotate(-68 251.55 591.48)" fill="#009292"/>
<ellipse cx="308.13" cy="589.58" rx="3.87" ry="2.64" transform="rotate(-68 308.13 589.58)" fill="#008383"/>
<ellipse cx="216.11" cy="598.70" rx="3.87" ry="2.64" transform="rotate(-68 216.11 598.70)" fill="#008383"/>
<ellipse cx="272.69" cy="596.80" rx="3.74" ry="2.55" transform="rotate(-68 272.69 596.80)" fill="#006868"/>
<ellipse cx="329.27" cy="594.90" rx="3.81" ry="2.59" transform="rotate(-68 329.27 594.90)" fill="#007575"/>
<ellipse cx="237.25" cy="604.02" rx="3.48" ry="2.37" transform="rotate(-68 237.25 604.02)" fill="#003535"/>
<ellipse cx="293.83" cy="602.12" rx="3.54" ry="2.42" transform="rotate(-68 293.83 602.12)" fill="#004141"/>
<ellipse cx="344.81" cy="485.84" rx="3.48" ry="2.37" transform="rotate(-68 344.81 485.84)" fill="#003535"/>
<ellipse cx="344.19" cy="534.10" rx="3.48" ry="2.37" transform="rotate(-68 344.19 534.10)" fill="#003535"/>
<ellipse cx="343.57" cy="582.36" rx="3.48" ry="2.37" transform="rotate(-68 343.57 582.36)" fill="#003535"/>
</g></g>
<clipPath id="cFe"><rect x="352" y="436.2" width="163" height="166.5"/></clipPath>
<g clip-path="url(#cFe)"><g filter="url(#f190_130)">
<rect x="340" y="424.2" width="187" height="190.5" fill="#000"/>
<ellipse cx="401.27" cy="441.38" rx="4.11" ry="3.29" transform="rotate(-78 401.27 441.38)" fill="#980000"/>
<ellipse cx="457.85" cy="439.48" rx="3.71" ry="2.97" transform="rotate(-78 457.85 439.48)" fill="#3c0000"/>
<ellipse cx="365.83" cy="448.60" rx="3.82" ry="3.06" transform="rotate(-78 365.83 448.60)" fill="#550000"/>
<ellipse cx="422.41" cy="446.70" rx="3.82" ry="3.06" transform="rotate(-78 422.41 446.70)" fill="#550000"/>
<ellipse cx="478.99" cy="444.80" rx="3.94" ry="3.15" transform="rotate(-78 478.99 444.80)" fill="#6f0000"/>
<ellipse cx="386.97" cy="453.92" rx="3.77" ry="3.02" transform="rotate(-78 386.97 453.92)" fill="#480000"/>
<ellipse cx="443.55" cy="452.02" rx="4.44" ry="3.56" transform="rotate(-78 443.55 452.02)" fill="#f00000"/>
<ellipse cx="500.13" cy="450.12" rx="3.71" ry="2.97" transform="rotate(-78 500.13 450.12)" fill="#3c0000"/>
<ellipse cx="408.11" cy="459.24" rx="4.05" ry="3.24" transform="rotate(-78 408.11 459.24)" fill="#8a0000"/>
<ellipse cx="464.69" cy="457.34" rx="3.77" ry="3.02" transform="rotate(-78 464.69 457.34)" fill="#480000"/>
<ellipse cx="372.67" cy="466.46" rx="3.60" ry="2.88" transform="rotate(-78 372.67 466.46)" fill="#250000"/>
<ellipse cx="429.25" cy="464.56" rx="3.77" ry="3.02" transform="rotate(-78 429.25 464.56)" fill="#480000"/>
<ellipse cx="485.83" cy="462.66" rx="4.44" ry="3.56" transform="rotate(-78 485.83 462.66)" fill="#f00000"/>
<ellipse cx="393.81" cy="471.78" rx="3.99" ry="3.19" transform="rotate(-78 393.81 471.78)" fill="#7c0000"/>
<ellipse cx="450.39" cy="469.88" rx="4.05" ry="3.24" transform="rotate(-78 450.39 469.88)" fill="#8a0000"/>
<ellipse cx="506.97" cy="467.98" rx="3.77" ry="3.02" transform="rotate(-78 506.97 467.98)" fill="#480000"/>
<ellipse cx="358.37" cy="479.00" rx="4.44" ry="3.56" transform="rotate(-78 358.37 479.00)" fill="#f00000"/>
<ellipse cx="414.95" cy="477.10" rx="4.05" ry="3.24" transform="rotate(-78 414.95 477.10)" fill="#8a0000"/>
<ellipse cx="471.53" cy="475.20" rx="3.71" ry="2.97" transform="rotate(-78 471.53 475.20)" fill="#3c0000"/>
<ellipse cx="379.51" cy="484.32" rx="3.71" ry="2.97" transform="rotate(-78 379.51 484.32)" fill="#3c0000"/>
<ellipse cx="436.09" cy="482.42" rx="3.82" ry="3.06" transform="rotate(-78 436.09 482.42)" fill="#550000"/>
<ellipse cx="492.67" cy="480.52" rx="4.16" ry="3.33" transform="rotate(-78 492.67 480.52)" fill="#a60000"/>
<ellipse cx="400.65" cy="489.64" rx="4.33" ry="3.47" transform="rotate(-78 400.65 489.64)" fill="#d20000"/>
<ellipse cx="457.23" cy="487.74" rx="3.77" ry="3.02" transform="rotate(-78 457.23 487.74)" fill="#480000"/>
<ellipse cx="365.21" cy="496.86" rx="3.88" ry="3.11" transform="rotate(-78 365.21 496.86)" fill="#620000"/>
<ellipse cx="421.79" cy="494.96" rx="4.27" ry="3.42" transform="rotate(-78 421.79 494.96)" fill="#c30000"/>
<ellipse cx="478.37" cy="493.06" rx="4.16" ry="3.33" transform="rotate(-78 478.37 493.06)" fill="#a60000"/>
<ellipse cx="386.35" cy="502.18" rx="3.60" ry="2.88" transform="rotate(-78 386.35 502.18)" fill="#250000"/>
<ellipse cx="442.93" cy="500.28" rx="3.82" ry="3.06" transform="rotate(-78 442.93 500.28)" fill="#550000"/>
<ellipse cx="499.51" cy="498.38" rx="4.16" ry="3.33" transform="rotate(-78 499.51 498.38)" fill="#a60000"/>
<ellipse cx="407.49" cy="507.50" rx="4.27" ry="3.42" transform="rotate(-78 407.49 507.50)" fill="#c30000"/>
<ellipse cx="464.07" cy="505.60" rx="3.94" ry="3.15" transform="rotate(-78 464.07 505.60)" fill="#6f0000"/>
<ellipse cx="372.05" cy="514.72" rx="3.82" ry="3.06" transform="rotate(-78 372.05 514.72)" fill="#550000"/>
<ellipse cx="428.63" cy="512.82" rx="4.33" ry="3.47" transform="rotate(-78 428.63 512.82)" fill="#d20000"/>
<ellipse cx="485.21" cy="510.92" rx="4.11" ry="3.29" transform="rotate(-78 485.21 510.92)" fill="#980000"/>
<ellipse cx="393.19" cy="520.04" rx="3.82" ry="3.06" transform="rotate(-78 393.19 520.04)" fill="#550000"/>
<ellipse cx="449.77" cy="518.14" rx="3.99" ry="3.19" transform="rotate(-78 449.77 518.14)" fill="#7c0000"/>
<ellipse cx="506.35" cy="516.24" rx="4.39" ry="3.51" transform="rotate(-78 506.35 516.24)" fill="#e10000"/>
<ellipse cx="357.75" cy="527.26" rx="4.44" ry="3.56" transform="rotate(-78 357.75 527.26)" fill="#f00000"/>
<ellipse cx="414.33" cy="525.36" rx="3.88" ry="3.11" transform="rotate(-78 414.33 525.36)" fill="#620000"/>
<ellipse cx="470.91" cy="523.46" rx="3.77" ry="3.02" transform="rotate(-78 470.91 523.46)" fill="#480000"/>
<ellipse cx="378.89" cy="532.58" rx="3.77" ry="3.02" transform="rotate(-78 378.89 532.58)" fill="#480000"/>
<ellipse cx="435.47" cy="530.68" rx="3.71" ry="2.97" transform="rotate(-78 435.47 530.68)" fill="#3c0000"/>
<ellipse cx="492.05" cy="528.78" rx="3.60" ry="2.88" transform="rotate(-78 492.05 528.78)" fill="#250000"/>
<ellipse cx="400.03" cy="537.90" rx="4.33" ry="3.47" transform="rotate(-78 400.03 537.90)" fill="#d20000"/>
<ellipse cx="456.61" cy="536.00" rx="3.94" ry="3.15" transform="rotate(-78 456.61 536.00)" fill="#6f0000"/>
<ellipse cx="364.59" cy="545.12" rx="4.44" ry="3.56" transform="rotate(-78 364.59 545.12)" fill="#f00000"/>
<ellipse cx="421.17" cy="543.22" rx="4.33" ry="3.47" transform="rotate(-78 421.17 543.22)" fill="#d20000"/>
<ellipse cx="477.75" cy="541.32" rx="3.60" ry="2.88" transform="rotate(-78 477.75 541.32)" fill="#250000"/>
<ellipse cx="385.73" cy="550.44" rx="4.11" ry="3.29" transform="rotate(-78 385.73 550.44)" fill="#980000"/>
<ellipse cx="442.31" cy="548.54" rx="3.88" ry="3.11" transform="rotate(-78 442.31 548.54)" fill="#620000"/>
<ellipse cx="498.89" cy="546.64" rx="3.66" ry="2.93" transform="rotate(-78 498.89 546.64)" fill="#300000"/>
<ellipse cx="406.87" cy="555.76" rx="4.33" ry="3.47" transform="rotate(-78 406.87 555.76)" fill="#d20000"/>
<ellipse cx="463.45" cy="553.86" rx="4.05" ry="3.24" transform="rotate(-78 463.45 553.86)" fill="#8a0000"/>
<ellipse cx="371.43" cy="562.98" rx="3.82" ry="3.06" transform="rotate(-78 371.43 562.98)" fill="#550000"/>
<ellipse cx="428.01" cy="561.08" rx="4.39" ry="3.51" transform="rotate(-78 428.01 561.08)" fill="#e10000"/>
<ellipse cx="484.59" cy="559.18" rx="3.71" ry="2.97" transform="rotate(-78 484.59 559.18)" fill="#3c0000"/>
<ellipse cx="392.57" cy="568.30" rx="3.88" ry="3.11" transform="rotate(-78 392.57 568.30)" fill="#620000"/>
<ellipse cx="449.15" cy="566.40" rx="3.99" ry="3.19" transform="rotate(-78 449.15 566.40)" fill="#7c0000"/>
<ellipse cx="505.73" cy="564.50" rx="4.05" ry="3.24" transform="rotate(-78 505.73 564.50)" fill="#8a0000"/>
<ellipse cx="357.13" cy="575.52" rx="4.11" ry="3.29" transform="rotate(-78 357.13 575.52)" fill="#980000"/>
<ellipse cx="413.71" cy="573.62" rx="3.66" ry="2.93" transform="rotate(-78 413.71 573.62)" fill="#300000"/>
<ellipse cx="470.29" cy="571.72" rx="3.60" ry="2.88" transform="rotate(-78 470.29 571.72)" fill="#250000"/>
<ellipse cx="378.27" cy="580.84" rx="3.99" ry="3.19" transform="rotate(-78 378.27 580.84)" fill="#7c0000"/>
<ellipse cx="434.85" cy="578.94" rx="4.39" ry="3.51" transform="rotate(-78 434.85 578.94)" fill="#e10000"/>
<ellipse cx="491.43" cy="577.04" rx="3.71" ry="2.97" transform="rotate(-78 491.43 577.04)" fill="#3c0000"/>
<ellipse cx="399.41" cy="586.16" rx="4.39" ry="3.51" transform="rotate(-78 399.41 586.16)" fill="#e10000"/>
<ellipse cx="455.99" cy="584.26" rx="3.99" ry="3.19" transform="rotate(-78 455.99 584.26)" fill="#7c0000"/>
<ellipse cx="363.97" cy="593.38" rx="4.33" ry="3.47" transform="rotate(-78 363.97 593.38)" fill="#d20000"/>
<ellipse cx="420.55" cy="591.48" rx="3.71" ry="2.97" transform="rotate(-78 420.55 591.48)" fill="#3c0000"/>
<ellipse cx="477.13" cy="589.58" rx="3.66" ry="2.93" transform="rotate(-78 477.13 589.58)" fill="#300000"/>
<ellipse cx="385.11" cy="598.70" rx="3.71" ry="2.97" transform="rotate(-78 385.11 598.70)" fill="#3c0000"/>
<ellipse cx="441.69" cy="596.80" rx="3.94" ry="3.15" transform="rotate(-78 441.69 596.80)" fill="#6f0000"/>
<ellipse cx="498.27" cy="594.90" rx="3.71" ry="2.97" transform="rotate(-78 498.27 594.90)" fill="#3c0000"/>
<ellipse cx="406.25" cy="604.02" rx="3.71" ry="2.97" transform="rotate(-78 406.25 604.02)" fill="#3c0000"/>
<ellipse cx="462.83" cy="602.12" rx="3.71" ry="2.97" transform="rotate(-78 462.83 602.12)" fill="#3c0000"/>
<ellipse cx="513.81" cy="485.84" rx="3.71" ry="2.97" transform="rotate(-78 513.81 485.84)" fill="#3c0000"/>
<ellipse cx="513.19" cy="534.10" rx="3.71" ry="2.97" transform="rotate(-78 513.19 534.10)" fill="#3c0000"/>
<ellipse cx="512.57" cy="582.36" rx="4.05" ry="3.24" transform="rotate(-78 512.57 582.36)" fill="#8a0000"/>
</g></g>
<clipPath id="cAl"><rect x="521" y="436.2" width="163" height="166.5"/></clipPath>
<g clip-path="url(#cAl)"><g filter="url(#f240_140)">
<rect x="509" y="424.2" width="187" height="190.5" fill="#000"/>
<line x1="556.90" y1="451.20" x2="546.10" y2="461.30" stroke="#003400" stroke-width="5.04" stroke-linecap="round"/>
<line x1="572.50" y1="438.60" x2="578.50" y2="453.60" stroke="#003d00" stroke-width="5.04" stroke-linecap="round"/>
<line x1="603.60" y1="482.70" x2="591.60" y2="491.90" stroke="#006600" stroke-width="5.04" stroke-linecap="round"/>
<line x1="550.90" y1="506.20" x2="533.00" y2="517.60" stroke="#002b00" stroke-width="5.04" stroke-linecap="round"/>
<line x1="576.70" y1="505.60" x2="583.20" y2="521.70" stroke="#005100" stroke-width="5.04" stroke-linecap="round"/>
<line x1="615.00" y1="451.80" x2="620.40" y2="467.30" stroke="#007100" stroke-width="5.04" stroke-linecap="round"/>
<line x1="636.50" y1="455.40" x2="640.10" y2="476.90" stroke="#003400" stroke-width="5.04" stroke-linecap="round"/>
<line x1="640.10" y1="476.90" x2="646.10" y2="490.70" stroke="#003d00" stroke-width="5.04" stroke-linecap="round"/>
<line x1="570.10" y1="538.20" x2="576.10" y2="556.10" stroke="#004700" stroke-width="5.04" stroke-linecap="round"/>
<line x1="576.10" y1="556.10" x2="583.20" y2="574.10" stroke="#004700" stroke-width="5.04" stroke-linecap="round"/>
<line x1="583.20" y1="574.10" x2="588.00" y2="589.60" stroke="#003d00" stroke-width="5.04" stroke-linecap="round"/>
<line x1="561.10" y1="570.50" x2="567.70" y2="587.20" stroke="#003400" stroke-width="5.04" stroke-linecap="round"/>
<line x1="567.70" y1="587.20" x2="574.30" y2="599.80" stroke="#003400" stroke-width="5.04" stroke-linecap="round"/>
<line x1="548.50" y1="580.10" x2="553.30" y2="596.80" stroke="#003d00" stroke-width="5.04" stroke-linecap="round"/>
<line x1="618.00" y1="565.70" x2="622.80" y2="587.20" stroke="#004700" stroke-width="5.04" stroke-linecap="round"/>
<line x1="671.20" y1="570.50" x2="677.20" y2="582.40" stroke="#002b00" stroke-width="5.04" stroke-linecap="round"/>
<ellipse cx="541.30" cy="441.00" rx="4.85" ry="3.40" transform="rotate(-10 541.30 441.00)" fill="#00cb00"/>
<ellipse cx="527.60" cy="454.80" rx="5.28" ry="3.82" transform="rotate(-80 527.60 454.80)" fill="#006e00"/>
<ellipse cx="556.90" cy="451.20" rx="5.57" ry="4.03" transform="rotate(-80 556.90 451.20)" fill="#00bb00"/>
<ellipse cx="546.10" cy="461.30" rx="5.10" ry="3.70" transform="rotate(-80 546.10 461.30)" fill="#004700"/>
<ellipse cx="572.50" cy="438.60" rx="5.16" ry="3.74" transform="rotate(-80 572.50 438.60)" fill="#005300"/>
<ellipse cx="578.50" cy="453.60" rx="5.80" ry="4.20" transform="rotate(-80 578.50 453.60)" fill="#00ff00"/>
<ellipse cx="595.80" cy="442.20" rx="5.10" ry="3.70" transform="rotate(-80 595.80 442.20)" fill="#004700"/>
<ellipse cx="599.40" cy="464.30" rx="5.34" ry="3.86" transform="rotate(-80 599.40 464.30)" fill="#007d00"/>
<ellipse cx="529.40" cy="475.10" rx="5.34" ry="3.86" transform="rotate(-80 529.40 475.10)" fill="#007d00"/>
<ellipse cx="564.10" cy="471.50" rx="4.99" ry="3.61" transform="rotate(-80 564.10 471.50)" fill="#002f00"/>
<ellipse cx="583.20" cy="473.90" rx="4.87" ry="3.53" transform="rotate(-80 583.20 473.90)" fill="#001b00"/>
<ellipse cx="550.90" cy="483.50" rx="5.16" ry="3.74" transform="rotate(-80 550.90 483.50)" fill="#005300"/>
<ellipse cx="568.90" cy="487.70" rx="5.51" ry="3.99" transform="rotate(-80 568.90 487.70)" fill="#00aa00"/>
<ellipse cx="603.60" cy="482.70" rx="5.80" ry="4.20" transform="rotate(-80 603.60 482.70)" fill="#00ff00"/>
<ellipse cx="591.60" cy="491.90" rx="5.39" ry="3.91" transform="rotate(-80 591.60 491.90)" fill="#008c00"/>
<ellipse cx="537.80" cy="490.70" rx="4.87" ry="3.53" transform="rotate(-80 537.80 490.70)" fill="#001b00"/>
<ellipse cx="550.90" cy="506.20" rx="5.45" ry="3.95" transform="rotate(-80 550.90 506.20)" fill="#009b00"/>
<ellipse cx="533.00" cy="517.60" rx="5.05" ry="3.65" transform="rotate(-80 533.00 517.60)" fill="#003b00"/>
<ellipse cx="576.70" cy="505.60" rx="5.57" ry="4.03" transform="rotate(-80 576.70 505.60)" fill="#00bb00"/>
<ellipse cx="583.20" cy="521.70" rx="5.28" ry="3.82" transform="rotate(-80 583.20 521.70)" fill="#006e00"/>
<ellipse cx="598.80" cy="508.00" rx="5.16" ry="3.74" transform="rotate(-80 598.80 508.00)" fill="#005300"/>
<ellipse cx="628.70" cy="439.80" rx="4.99" ry="3.61" transform="rotate(-80 628.70 439.80)" fill="#002f00"/>
<ellipse cx="615.00" cy="451.80" rx="5.57" ry="4.03" transform="rotate(-80 615.00 451.80)" fill="#00bb00"/>
<ellipse cx="620.40" cy="467.30" rx="5.45" ry="3.95" transform="rotate(-80 620.40 467.30)" fill="#009b00"/>
<ellipse cx="636.50" cy="455.40" rx="5.10" ry="3.70" transform="rotate(-80 636.50 455.40)" fill="#004700"/>
<ellipse cx="640.10" cy="476.90" rx="5.16" ry="3.74" transform="rotate(-80 640.10 476.90)" fill="#005300"/>
<ellipse cx="646.10" cy="490.70" rx="5.34" ry="3.86" transform="rotate(-80 646.10 490.70)" fill="#007d00"/>
<ellipse cx="649.10" cy="444.00" rx="5.22" ry="3.78" transform="rotate(-80 649.10 444.00)" fill="#006100"/>
<ellipse cx="655.70" cy="460.70" rx="5.39" ry="3.91" transform="rotate(-80 655.70 460.70)" fill="#008c00"/>
<ellipse cx="674.80" cy="472.10" rx="4.93" ry="3.57" transform="rotate(-80 674.80 472.10)" fill="#002500"/>
<ellipse cx="661.10" cy="480.50" rx="5.22" ry="3.78" transform="rotate(-80 661.10 480.50)" fill="#006100"/>
<ellipse cx="624.50" cy="487.70" rx="5.34" ry="3.86" transform="rotate(-80 624.50 487.70)" fill="#007d00"/>
<ellipse cx="673.60" cy="494.90" rx="5.39" ry="3.91" transform="rotate(-80 673.60 494.90)" fill="#008c00"/>
<ellipse cx="634.70" cy="502.60" rx="4.99" ry="3.61" transform="rotate(-80 634.70 502.60)" fill="#002f00"/>
<ellipse cx="611.40" cy="501.40" rx="5.16" ry="3.74" transform="rotate(-80 611.40 501.40)" fill="#005300"/>
<ellipse cx="655.70" cy="510.40" rx="5.22" ry="3.78" transform="rotate(-80 655.70 510.40)" fill="#006100"/>
<ellipse cx="619.80" cy="518.70" rx="5.51" ry="3.99" transform="rotate(-80 619.80 518.70)" fill="#00aa00"/>
<ellipse cx="641.30" cy="521.20" rx="5.16" ry="3.74" transform="rotate(-80 641.30 521.20)" fill="#005300"/>
<ellipse cx="674.80" cy="515.80" rx="5.05" ry="3.65" transform="rotate(-80 674.80 515.80)" fill="#003b00"/>
<ellipse cx="529.40" cy="526.20" rx="4.99" ry="3.61" transform="rotate(-80 529.40 526.20)" fill="#002f00"/>
<ellipse cx="549.70" cy="529.20" rx="5.10" ry="3.70" transform="rotate(-80 549.70 529.20)" fill="#004700"/>
<ellipse cx="534.20" cy="542.30" rx="5.57" ry="4.03" transform="rotate(-80 534.20 542.30)" fill="#00bb00"/>
<ellipse cx="570.10" cy="538.20" rx="5.22" ry="3.78" transform="rotate(-80 570.10 538.20)" fill="#006100"/>
<ellipse cx="576.10" cy="556.10" rx="5.22" ry="3.78" transform="rotate(-80 576.10 556.10)" fill="#006100"/>
<ellipse cx="583.20" cy="574.10" rx="5.74" ry="4.16" transform="rotate(-80 583.20 574.10)" fill="#00ed00"/>
<ellipse cx="588.00" cy="589.60" rx="5.16" ry="3.74" transform="rotate(-80 588.00 589.60)" fill="#005300"/>
<ellipse cx="590.40" cy="540.50" rx="5.22" ry="3.78" transform="rotate(-80 590.40 540.50)" fill="#006100"/>
<ellipse cx="554.50" cy="550.10" rx="4.99" ry="3.61" transform="rotate(-80 554.50 550.10)" fill="#002f00"/>
<ellipse cx="598.80" cy="559.70" rx="5.63" ry="4.07" transform="rotate(-80 598.80 559.70)" fill="#00cb00"/>
<ellipse cx="528.20" cy="568.10" rx="4.99" ry="3.61" transform="rotate(-80 528.20 568.10)" fill="#002f00"/>
<ellipse cx="561.10" cy="570.50" rx="5.10" ry="3.70" transform="rotate(-80 561.10 570.50)" fill="#004700"/>
<ellipse cx="567.70" cy="587.20" rx="5.10" ry="3.70" transform="rotate(-80 567.70 587.20)" fill="#004700"/>
<ellipse cx="574.30" cy="599.80" rx="5.22" ry="3.78" transform="rotate(-80 574.30 599.80)" fill="#006100"/>
<ellipse cx="548.50" cy="580.10" rx="5.34" ry="3.86" transform="rotate(-80 548.50 580.10)" fill="#007d00"/>
<ellipse cx="553.30" cy="596.80" rx="5.16" ry="3.74" transform="rotate(-80 553.30 596.80)" fill="#005300"/>
<ellipse cx="602.00" cy="578.20" rx="5.57" ry="4.03" transform="rotate(-80 602.00 578.20)" fill="#00bb00"/>
<ellipse cx="533.00" cy="589.60" rx="5.63" ry="4.07" transform="rotate(-80 533.00 589.60)" fill="#00cb00"/>
<ellipse cx="604.20" cy="529.20" rx="5.28" ry="3.82" transform="rotate(-80 604.20 529.20)" fill="#006e00"/>
<ellipse cx="624.50" cy="534.60" rx="5.16" ry="3.74" transform="rotate(-80 624.50 534.60)" fill="#005300"/>
<ellipse cx="660.50" cy="530.40" rx="5.16" ry="3.74" transform="rotate(-80 660.50 530.40)" fill="#005300"/>
<ellipse cx="645.50" cy="540.00" rx="5.28" ry="3.82" transform="rotate(-80 645.50 540.00)" fill="#006e00"/>
<ellipse cx="669.40" cy="545.90" rx="5.22" ry="3.78" transform="rotate(-80 669.40 545.90)" fill="#006100"/>
<ellipse cx="633.50" cy="552.50" rx="5.22" ry="3.78" transform="rotate(-80 633.50 552.50)" fill="#006100"/>
<ellipse cx="652.70" cy="557.90" rx="5.34" ry="3.86" transform="rotate(-80 652.70 557.90)" fill="#007d00"/>
<ellipse cx="639.50" cy="567.50" rx="5.74" ry="4.16" transform="rotate(-80 639.50 567.50)" fill="#00ed00"/>
<ellipse cx="618.00" cy="565.70" rx="5.22" ry="3.78" transform="rotate(-80 618.00 565.70)" fill="#006100"/>
<ellipse cx="622.80" cy="587.20" rx="5.34" ry="3.86" transform="rotate(-80 622.80 587.20)" fill="#007d00"/>
<ellipse cx="671.20" cy="570.50" rx="5.05" ry="3.65" transform="rotate(-80 671.20 570.50)" fill="#003b00"/>
<ellipse cx="677.20" cy="582.40" rx="5.10" ry="3.70" transform="rotate(-80 677.20 582.40)" fill="#004700"/>
<ellipse cx="660.50" cy="576.50" rx="4.99" ry="3.61" transform="rotate(-80 660.50 576.50)" fill="#002f00"/>
<ellipse cx="643.10" cy="589.60" rx="5.22" ry="3.78" transform="rotate(-80 643.10 589.60)" fill="#006100"/>
<ellipse cx="609.60" cy="596.80" rx="5.28" ry="3.82" transform="rotate(-80 609.60 596.80)" fill="#006e00"/>
<ellipse cx="665.20" cy="596.20" rx="5.22" ry="3.78" transform="rotate(-80 665.20 596.20)" fill="#006100"/>
<ellipse cx="674.80" cy="520.20" rx="4.99" ry="3.61" transform="rotate(-80 674.80 520.20)" fill="#002f00"/>
</g></g>
<clipPath id="cMn"><rect x="14" y="611.1" width="163" height="166.5"/></clipPath>
<g clip-path="url(#cMn)"><g filter="url(#f150_114)">
<rect x="2" y="599.1" width="187" height="190.5" fill="#000"/>
<ellipse cx="84.41" cy="621.60" rx="3.63" ry="2.42" transform="rotate(-62 84.41 621.60)" fill="#750075"/>
<ellipse cx="119.85" cy="614.38" rx="3.38" ry="2.25" transform="rotate(-62 119.85 614.38)" fill="#410041"/>
<ellipse cx="70.11" cy="634.14" rx="3.51" ry="2.34" transform="rotate(-62 70.11 634.14)" fill="#5a005a"/>
<ellipse cx="27.83" cy="623.50" rx="3.13" ry="2.09" transform="rotate(-62 27.83 623.50)" fill="#160016"/>
<ellipse cx="34.67" cy="641.36" rx="3.44" ry="2.30" transform="rotate(-62 34.67 641.36)" fill="#4d004d"/>
<ellipse cx="126.69" cy="632.24" rx="3.32" ry="2.21" transform="rotate(-62 126.69 632.24)" fill="#350035"/>
<ellipse cx="112.39" cy="644.78" rx="3.38" ry="2.25" transform="rotate(-62 112.39 644.78)" fill="#410041"/>
<ellipse cx="55.81" cy="646.68" rx="3.19" ry="2.13" transform="rotate(-62 55.81 646.68)" fill="#1f001f"/>
<ellipse cx="20.37" cy="653.90" rx="3.89" ry="2.59" transform="rotate(-62 20.37 653.90)" fill="#af00af"/>
<ellipse cx="76.95" cy="652.00" rx="3.19" ry="2.13" transform="rotate(-62 76.95 652.00)" fill="#1f001f"/>
<ellipse cx="98.09" cy="657.32" rx="3.63" ry="2.42" transform="rotate(-62 98.09 657.32)" fill="#750075"/>
<ellipse cx="154.67" cy="655.42" rx="3.32" ry="2.21" transform="rotate(-62 154.67 655.42)" fill="#350035"/>
<ellipse cx="41.51" cy="659.22" rx="3.32" ry="2.21" transform="rotate(-62 41.51 659.22)" fill="#350035"/>
<ellipse cx="168.97" cy="642.88" rx="3.57" ry="2.38" transform="rotate(-62 168.97 642.88)" fill="#680068"/>
<ellipse cx="119.23" cy="662.64" rx="3.13" ry="2.09" transform="rotate(-62 119.23 662.64)" fill="#160016"/>
<ellipse cx="62.65" cy="664.54" rx="3.13" ry="2.09" transform="rotate(-62 62.65 664.54)" fill="#160016"/>
<ellipse cx="27.21" cy="671.76" rx="3.13" ry="2.09" transform="rotate(-62 27.21 671.76)" fill="#160016"/>
<ellipse cx="83.79" cy="669.86" rx="3.19" ry="2.13" transform="rotate(-62 83.79 669.86)" fill="#1f001f"/>
<ellipse cx="104.93" cy="675.18" rx="3.25" ry="2.17" transform="rotate(-62 104.93 675.18)" fill="#2a002a"/>
<ellipse cx="161.51" cy="673.28" rx="3.38" ry="2.25" transform="rotate(-62 161.51 673.28)" fill="#410041"/>
<ellipse cx="69.49" cy="682.40" rx="4.14" ry="2.76" transform="rotate(-62 69.49 682.40)" fill="#ef00ef"/>
<ellipse cx="126.07" cy="680.50" rx="3.38" ry="2.25" transform="rotate(-62 126.07 680.50)" fill="#410041"/>
<ellipse cx="34.05" cy="689.62" rx="3.51" ry="2.34" transform="rotate(-62 34.05 689.62)" fill="#5a005a"/>
<ellipse cx="90.63" cy="687.72" rx="3.19" ry="2.13" transform="rotate(-62 90.63 687.72)" fill="#1f001f"/>
<ellipse cx="147.21" cy="685.82" rx="3.13" ry="2.09" transform="rotate(-62 147.21 685.82)" fill="#160016"/>
<ellipse cx="55.19" cy="694.94" rx="3.38" ry="2.25" transform="rotate(-62 55.19 694.94)" fill="#410041"/>
<ellipse cx="111.77" cy="693.04" rx="4.20" ry="2.80" transform="rotate(-62 111.77 693.04)" fill="#ff00ff"/>
<ellipse cx="19.75" cy="702.16" rx="3.13" ry="2.09" transform="rotate(-62 19.75 702.16)" fill="#160016"/>
<ellipse cx="76.33" cy="700.26" rx="3.13" ry="2.09" transform="rotate(-62 76.33 700.26)" fill="#160016"/>
<ellipse cx="132.91" cy="698.36" rx="3.32" ry="2.21" transform="rotate(-62 132.91 698.36)" fill="#350035"/>
<ellipse cx="40.89" cy="707.48" rx="3.13" ry="2.09" transform="rotate(-62 40.89 707.48)" fill="#160016"/>
<ellipse cx="97.47" cy="705.58" rx="3.19" ry="2.13" transform="rotate(-62 97.47 705.58)" fill="#1f001f"/>
<ellipse cx="154.05" cy="703.68" rx="3.51" ry="2.34" transform="rotate(-62 154.05 703.68)" fill="#5a005a"/>
<ellipse cx="62.03" cy="712.80" rx="4.20" ry="2.80" transform="rotate(-62 62.03 712.80)" fill="#ff00ff"/>
<ellipse cx="118.61" cy="710.90" rx="4.14" ry="2.76" transform="rotate(-62 118.61 710.90)" fill="#ef00ef"/>
<ellipse cx="26.59" cy="720.02" rx="3.19" ry="2.13" transform="rotate(-62 26.59 720.02)" fill="#1f001f"/>
<ellipse cx="83.17" cy="718.12" rx="3.44" ry="2.30" transform="rotate(-62 83.17 718.12)" fill="#4d004d"/>
<ellipse cx="139.75" cy="716.22" rx="3.38" ry="2.25" transform="rotate(-62 139.75 716.22)" fill="#410041"/>
<ellipse cx="47.73" cy="725.34" rx="3.13" ry="2.09" transform="rotate(-62 47.73 725.34)" fill="#160016"/>
<ellipse cx="104.31" cy="723.44" rx="3.25" ry="2.17" transform="rotate(-62 104.31 723.44)" fill="#2a002a"/>
<ellipse cx="160.89" cy="721.54" rx="3.44" ry="2.30" transform="rotate(-62 160.89 721.54)" fill="#4d004d"/>
<ellipse cx="68.87" cy="730.66" rx="3.32" ry="2.21" transform="rotate(-62 68.87 730.66)" fill="#350035"/>
<ellipse cx="33.43" cy="737.88" rx="3.38" ry="2.25" transform="rotate(-62 33.43 737.88)" fill="#410041"/>
<ellipse cx="90.01" cy="735.98" rx="3.13" ry="2.09" transform="rotate(-62 90.01 735.98)" fill="#160016"/>
<ellipse cx="54.57" cy="743.20" rx="3.38" ry="2.25" transform="rotate(-62 54.57 743.20)" fill="#410041"/>
<ellipse cx="111.15" cy="741.30" rx="3.82" ry="2.55" transform="rotate(-62 111.15 741.30)" fill="#a000a0"/>
<ellipse cx="19.13" cy="750.42" rx="3.51" ry="2.34" transform="rotate(-62 19.13 750.42)" fill="#5a005a"/>
<ellipse cx="75.71" cy="748.52" rx="3.95" ry="2.63" transform="rotate(-62 75.71 748.52)" fill="#bf00bf"/>
<ellipse cx="132.29" cy="746.62" rx="3.82" ry="2.55" transform="rotate(-62 132.29 746.62)" fill="#a000a0"/>
<ellipse cx="40.27" cy="755.74" rx="3.25" ry="2.17" transform="rotate(-62 40.27 755.74)" fill="#2a002a"/>
<ellipse cx="96.85" cy="753.84" rx="3.44" ry="2.30" transform="rotate(-62 96.85 753.84)" fill="#4d004d"/>
<ellipse cx="153.43" cy="751.94" rx="3.32" ry="2.21" transform="rotate(-62 153.43 751.94)" fill="#350035"/>
<ellipse cx="61.41" cy="761.06" rx="3.32" ry="2.21" transform="rotate(-62 61.41 761.06)" fill="#350035"/>
<ellipse cx="117.99" cy="759.16" rx="3.13" ry="2.09" transform="rotate(-62 117.99 759.16)" fill="#160016"/>
<ellipse cx="25.97" cy="768.28" rx="3.19" ry="2.13" transform="rotate(-62 25.97 768.28)" fill="#1f001f"/>
<ellipse cx="82.55" cy="766.38" rx="3.44" ry="2.30" transform="rotate(-62 82.55 766.38)" fill="#4d004d"/>
<ellipse cx="139.13" cy="764.48" rx="3.51" ry="2.34" transform="rotate(-62 139.13 764.48)" fill="#5a005a"/>
<ellipse cx="47.11" cy="773.60" rx="3.32" ry="2.21" transform="rotate(-62 47.11 773.60)" fill="#350035"/>
<ellipse cx="103.69" cy="771.70" rx="3.63" ry="2.42" transform="rotate(-62 103.69 771.70)" fill="#750075"/>
<ellipse cx="160.27" cy="769.80" rx="3.19" ry="2.13" transform="rotate(-62 160.27 769.80)" fill="#1f001f"/>
<ellipse cx="124.83" cy="777.02" rx="3.32" ry="2.21" transform="rotate(-62 124.83 777.02)" fill="#350035"/>
<ellipse cx="105.55" cy="626.92" rx="3.13" ry="2.09" transform="rotate(-62 105.55 626.92)" fill="#160016"/>
<ellipse cx="63.27" cy="616.28" rx="3.13" ry="2.09" transform="rotate(-62 63.27 616.28)" fill="#160016"/>
<ellipse cx="91.25" cy="639.46" rx="3.13" ry="2.09" transform="rotate(-62 91.25 639.46)" fill="#160016"/>
</g></g>
<clipPath id="cCu"><rect x="183" y="611.1" width="163" height="166.5"/></clipPath>
<g clip-path="url(#cCu)"><g filter="url(#f150_114)">
<rect x="171" y="599.1" width="187" height="190.5" fill="#000"/>
<ellipse cx="196.83" cy="623.50" rx="3.17" ry="2.50" transform="rotate(-70 196.83 623.50)" fill="#5a2d00"/>
<ellipse cx="217.97" cy="628.82" rx="3.06" ry="2.42" transform="rotate(-70 217.97 628.82)" fill="#412100"/>
<ellipse cx="203.67" cy="641.36" rx="3.06" ry="2.42" transform="rotate(-70 203.67 641.36)" fill="#412100"/>
<ellipse cx="224.81" cy="646.68" rx="3.06" ry="2.42" transform="rotate(-70 224.81 646.68)" fill="#412100"/>
<ellipse cx="189.37" cy="653.90" rx="3.63" ry="2.86" transform="rotate(-70 189.37 653.90)" fill="#ce6800"/>
<ellipse cx="210.51" cy="659.22" rx="3.06" ry="2.42" transform="rotate(-70 210.51 659.22)" fill="#412100"/>
<ellipse cx="252.79" cy="669.86" rx="3.29" ry="2.59" transform="rotate(-70 252.79 669.86)" fill="#753b00"/>
<ellipse cx="217.35" cy="677.08" rx="3.34" ry="2.64" transform="rotate(-70 217.35 677.08)" fill="#834200"/>
<ellipse cx="203.05" cy="689.62" rx="3.29" ry="2.59" transform="rotate(-70 203.05 689.62)" fill="#753b00"/>
<ellipse cx="224.19" cy="694.94" rx="3.00" ry="2.37" transform="rotate(-70 224.19 694.94)" fill="#351b00"/>
<ellipse cx="259.63" cy="687.72" rx="3.23" ry="2.55" transform="rotate(-70 259.63 687.72)" fill="#683400"/>
<ellipse cx="245.33" cy="700.26" rx="3.23" ry="2.55" transform="rotate(-70 245.33 700.26)" fill="#683400"/>
<ellipse cx="280.77" cy="693.04" rx="3.06" ry="2.42" transform="rotate(-70 280.77 693.04)" fill="#412100"/>
<ellipse cx="266.47" cy="705.58" rx="3.06" ry="2.42" transform="rotate(-70 266.47 705.58)" fill="#412100"/>
<ellipse cx="231.03" cy="712.80" rx="3.06" ry="2.42" transform="rotate(-70 231.03 712.80)" fill="#412100"/>
<ellipse cx="195.59" cy="720.02" rx="3.23" ry="2.55" transform="rotate(-70 195.59 720.02)" fill="#683400"/>
<ellipse cx="216.73" cy="725.34" rx="3.17" ry="2.50" transform="rotate(-70 216.73 725.34)" fill="#5a2d00"/>
<ellipse cx="273.31" cy="723.44" rx="3.40" ry="2.69" transform="rotate(-70 273.31 723.44)" fill="#924900"/>
<ellipse cx="287.61" cy="710.90" rx="3.00" ry="2.37" transform="rotate(-70 287.61 710.90)" fill="#351b00"/>
<ellipse cx="295.07" cy="680.50" rx="3.80" ry="3.00" transform="rotate(-70 295.07 680.50)" fill="#ff8000"/>
<ellipse cx="302.53" cy="650.10" rx="3.52" ry="2.78" transform="rotate(-70 302.53 650.10)" fill="#af5800"/>
<ellipse cx="295.69" cy="632.24" rx="3.23" ry="2.55" transform="rotate(-70 295.69 632.24)" fill="#683400"/>
<ellipse cx="309.37" cy="667.96" rx="3.34" ry="2.64" transform="rotate(-70 309.37 667.96)" fill="#834200"/>
<ellipse cx="316.21" cy="685.82" rx="3.23" ry="2.55" transform="rotate(-70 316.21 685.82)" fill="#683400"/>
<ellipse cx="323.05" cy="703.68" rx="3.06" ry="2.42" transform="rotate(-70 323.05 703.68)" fill="#412100"/>
<ellipse cx="337.35" cy="691.14" rx="3.46" ry="2.73" transform="rotate(-70 337.35 691.14)" fill="#a05100"/>
<ellipse cx="260.25" cy="639.46" rx="3.00" ry="2.37" transform="rotate(-70 260.25 639.46)" fill="#351b00"/>
<ellipse cx="288.23" cy="662.64" rx="3.00" ry="2.37" transform="rotate(-70 288.23 662.64)" fill="#351b00"/>
<ellipse cx="280.15" cy="741.30" rx="3.00" ry="2.37" transform="rotate(-70 280.15 741.30)" fill="#351b00"/>
<ellipse cx="301.91" cy="698.36" rx="3.00" ry="2.37" transform="rotate(-70 301.91 698.36)" fill="#351b00"/>
<ellipse cx="315.59" cy="734.08" rx="3.06" ry="2.42" transform="rotate(-70 315.59 734.08)" fill="#412100"/>
<ellipse cx="301.29" cy="746.62" rx="3.34" ry="2.64" transform="rotate(-70 301.29 746.62)" fill="#834200"/>
<ellipse cx="322.43" cy="751.94" rx="3.29" ry="2.59" transform="rotate(-70 322.43 751.94)" fill="#753b00"/>
<ellipse cx="286.99" cy="759.16" rx="3.34" ry="2.64" transform="rotate(-70 286.99 759.16)" fill="#834200"/>
<ellipse cx="329.27" cy="769.80" rx="3.23" ry="2.55" transform="rotate(-70 329.27 769.80)" fill="#683400"/>
<ellipse cx="308.13" cy="764.48" rx="3.00" ry="2.37" transform="rotate(-70 308.13 764.48)" fill="#351b00"/>
<ellipse cx="251.55" cy="766.38" rx="3.17" ry="2.50" transform="rotate(-70 251.55 766.38)" fill="#5a2d00"/>
<ellipse cx="230.41" cy="761.06" rx="3.46" ry="2.73" transform="rotate(-70 230.41 761.06)" fill="#a05100"/>
<ellipse cx="209.27" cy="755.74" rx="3.34" ry="2.64" transform="rotate(-70 209.27 755.74)" fill="#834200"/>
<ellipse cx="223.57" cy="743.20" rx="3.00" ry="2.37" transform="rotate(-70 223.57 743.20)" fill="#351b00"/>
<ellipse cx="237.87" cy="730.66" rx="3.00" ry="2.37" transform="rotate(-70 237.87 730.66)" fill="#351b00"/>
<ellipse cx="216.11" cy="773.60" rx="3.29" ry="2.59" transform="rotate(-70 216.11 773.60)" fill="#753b00"/>
<ellipse cx="288.85" cy="614.38" rx="3.23" ry="2.55" transform="rotate(-70 288.85 614.38)" fill="#683400"/>
<ellipse cx="337.97" cy="642.88" rx="3.06" ry="2.42" transform="rotate(-70 337.97 642.88)" fill="#412100"/>
<ellipse cx="329.89" cy="721.54" rx="3.00" ry="2.37" transform="rotate(-70 329.89 721.54)" fill="#351b00"/>
<ellipse cx="265.85" cy="753.84" rx="3.00" ry="2.37" transform="rotate(-70 265.85 753.84)" fill="#351b00"/>
<ellipse cx="239.11" cy="634.14" rx="2.89" ry="2.28" transform="rotate(-70 239.11 634.14)" fill="#1f1000"/>
<ellipse cx="253.41" cy="621.60" rx="2.83" ry="2.23" transform="rotate(-70 253.41 621.60)" fill="#160b00"/>
<ellipse cx="274.55" cy="626.92" rx="2.77" ry="2.19" transform="rotate(-70 274.55 626.92)" fill="#0d0600"/>
<ellipse cx="281.39" cy="644.78" rx="2.83" ry="2.23" transform="rotate(-70 281.39 644.78)" fill="#160b00"/>
<ellipse cx="245.95" cy="652.00" rx="2.89" ry="2.28" transform="rotate(-70 245.95 652.00)" fill="#1f1000"/>
<ellipse cx="267.09" cy="657.32" rx="2.94" ry="2.32" transform="rotate(-70 267.09 657.32)" fill="#2a1500"/>
<ellipse cx="238.49" cy="682.40" rx="2.83" ry="2.23" transform="rotate(-70 238.49 682.40)" fill="#160b00"/>
<ellipse cx="252.17" cy="718.12" rx="2.89" ry="2.28" transform="rotate(-70 252.17 718.12)" fill="#1f1000"/>
<ellipse cx="209.89" cy="707.48" rx="2.94" ry="2.32" transform="rotate(-70 209.89 707.48)" fill="#2a1500"/>
<ellipse cx="202.43" cy="737.88" rx="2.83" ry="2.23" transform="rotate(-70 202.43 737.88)" fill="#160b00"/>
<ellipse cx="188.13" cy="750.42" rx="2.83" ry="2.23" transform="rotate(-70 188.13 750.42)" fill="#160b00"/>
<ellipse cx="194.97" cy="768.28" rx="2.83" ry="2.23" transform="rotate(-70 194.97 768.28)" fill="#160b00"/>
<ellipse cx="272.69" cy="771.70" rx="2.94" ry="2.32" transform="rotate(-70 272.69 771.70)" fill="#2a1500"/>
<ellipse cx="294.45" cy="728.76" rx="2.89" ry="2.28" transform="rotate(-70 294.45 728.76)" fill="#1f1000"/>
<ellipse cx="308.75" cy="716.22" rx="2.89" ry="2.28" transform="rotate(-70 308.75 716.22)" fill="#1f1000"/>
<ellipse cx="293.83" cy="777.02" rx="2.89" ry="2.28" transform="rotate(-70 293.83 777.02)" fill="#1f1000"/>
<ellipse cx="330.51" cy="673.28" rx="2.89" ry="2.28" transform="rotate(-70 330.51 673.28)" fill="#1f1000"/>
<ellipse cx="323.67" cy="655.42" rx="2.83" ry="2.23" transform="rotate(-70 323.67 655.42)" fill="#160b00"/>
<ellipse cx="196.21" cy="671.76" rx="2.83" ry="2.23" transform="rotate(-70 196.21 671.76)" fill="#160b00"/>
</g></g>
<clipPath id="cSi"><rect x="352" y="611.1" width="163" height="166.5"/></clipPath>
<g clip-path="url(#cSi)"><g filter="url(#f229_140)">
<rect x="340" y="599.1" width="187" height="190.5" fill="#000"/>
<line x1="369.40" y1="617.70" x2="360.00" y2="626.10" stroke="#39101b" stroke-width="4.62" stroke-linecap="round"/>
<line x1="355.00" y1="629.10" x2="366.00" y2="637.10" stroke="#1a080d" stroke-width="4.62" stroke-linecap="round"/>
<line x1="407.10" y1="635.00" x2="413.00" y2="647.60" stroke="#531827" stroke-width="4.62" stroke-linecap="round"/>
<line x1="377.70" y1="659.00" x2="384.30" y2="673.30" stroke="#41131f" stroke-width="4.62" stroke-linecap="round"/>
<line x1="432.00" y1="636.10" x2="440.00" y2="626.70" stroke="#41131f" stroke-width="4.62" stroke-linecap="round"/>
<line x1="440.00" y1="626.70" x2="445.00" y2="622.10" stroke="#39101b" stroke-width="4.62" stroke-linecap="round"/>
<line x1="454.30" y1="662.60" x2="441.80" y2="672.70" stroke="#6e2035" stroke-width="4.62" stroke-linecap="round"/>
<line x1="353.20" y1="701.10" x2="356.80" y2="716.10" stroke="#1a080d" stroke-width="4.62" stroke-linecap="round"/>
<line x1="356.80" y1="716.10" x2="370.00" y2="716.60" stroke="#310e17" stroke-width="4.62" stroke-linecap="round"/>
<line x1="370.00" y1="716.60" x2="378.30" y2="705.90" stroke="#1a080d" stroke-width="4.62" stroke-linecap="round"/>
<line x1="420.50" y1="724.10" x2="422.60" y2="733.40" stroke="#220a10" stroke-width="4.62" stroke-linecap="round"/>
<line x1="386.70" y1="770.50" x2="397.50" y2="763.30" stroke="#39101b" stroke-width="4.62" stroke-linecap="round"/>
<line x1="459.10" y1="725.00" x2="448.40" y2="735.80" stroke="#310e17" stroke-width="4.62" stroke-linecap="round"/>
<line x1="485.50" y1="734.60" x2="503.40" y2="739.40" stroke="#220a10" stroke-width="4.62" stroke-linecap="round"/>
<line x1="490.30" y1="753.80" x2="508.20" y2="759.70" stroke="#220a10" stroke-width="4.62" stroke-linecap="round"/>
<line x1="473.50" y1="764.50" x2="463.90" y2="774.10" stroke="#290c14" stroke-width="4.62" stroke-linecap="round"/>
<ellipse cx="369.40" cy="617.70" rx="5.76" ry="3.46" transform="rotate(-50 369.40 617.70)" fill="#bf375b"/>
<ellipse cx="360.00" cy="626.10" rx="4.63" ry="3.74" transform="rotate(-60 360.00 626.10)" fill="#5a1a2b"/>
<ellipse cx="355.00" cy="629.10" rx="4.47" ry="3.61" transform="rotate(-60 355.00 629.10)" fill="#350f1a"/>
<ellipse cx="366.00" cy="637.10" rx="4.42" ry="3.57" transform="rotate(-60 366.00 637.10)" fill="#2a0c14"/>
<ellipse cx="401.10" cy="616.50" rx="4.52" ry="3.65" transform="rotate(-60 401.10 616.50)" fill="#41131f"/>
<ellipse cx="386.70" cy="627.30" rx="4.78" ry="3.86" transform="rotate(-60 386.70 627.30)" fill="#83263f"/>
<ellipse cx="407.10" cy="635.00" rx="4.84" ry="3.91" transform="rotate(-60 407.10 635.00)" fill="#922a46"/>
<ellipse cx="413.00" cy="647.60" rx="4.78" ry="3.86" transform="rotate(-60 413.00 647.60)" fill="#83263f"/>
<ellipse cx="430.40" cy="636.20" rx="4.58" ry="3.70" transform="rotate(-60 430.40 636.20)" fill="#4d1625"/>
<ellipse cx="390.90" cy="643.40" rx="4.52" ry="3.65" transform="rotate(-60 390.90 643.40)" fill="#41131f"/>
<ellipse cx="355.60" cy="650.60" rx="4.42" ry="3.57" transform="rotate(-60 355.60 650.60)" fill="#2a0c14"/>
<ellipse cx="399.30" cy="660.20" rx="5.10" ry="4.12" transform="rotate(-60 399.30 660.20)" fill="#de416a"/>
<ellipse cx="377.70" cy="659.00" rx="4.78" ry="3.86" transform="rotate(-60 377.70 659.00)" fill="#83263f"/>
<ellipse cx="384.30" cy="673.30" rx="4.68" ry="3.78" transform="rotate(-60 384.30 673.30)" fill="#681e32"/>
<ellipse cx="362.20" cy="668.00" rx="5.04" ry="4.07" transform="rotate(-60 362.20 668.00)" fill="#ce3c63"/>
<ellipse cx="434.00" cy="652.10" rx="4.99" ry="4.03" transform="rotate(-60 434.00 652.10)" fill="#bf375b"/>
<ellipse cx="422.60" cy="666.20" rx="4.52" ry="3.65" transform="rotate(-60 422.60 666.20)" fill="#41131f"/>
<ellipse cx="407.70" cy="678.70" rx="5.00" ry="3.09" transform="rotate(-45 407.70 678.70)" fill="#752238"/>
<ellipse cx="370.00" cy="686.50" rx="6.24" ry="3.65" transform="rotate(-25 370.00 686.50)" fill="#bf375b"/>
<ellipse cx="389.10" cy="688.90" rx="4.47" ry="3.61" transform="rotate(-60 389.10 688.90)" fill="#350f1a"/>
<ellipse cx="426.20" cy="685.30" rx="4.52" ry="3.65" transform="rotate(-60 426.20 685.30)" fill="#41131f"/>
<ellipse cx="432.00" cy="636.10" rx="4.68" ry="3.78" transform="rotate(-60 432.00 636.10)" fill="#681e32"/>
<ellipse cx="440.00" cy="626.70" rx="4.73" ry="3.82" transform="rotate(-60 440.00 626.70)" fill="#752238"/>
<ellipse cx="445.00" cy="622.10" rx="4.63" ry="3.74" transform="rotate(-60 445.00 622.10)" fill="#5a1a2b"/>
<ellipse cx="463.30" cy="629.10" rx="4.94" ry="3.99" transform="rotate(-60 463.30 629.10)" fill="#af3354"/>
<ellipse cx="483.70" cy="635.60" rx="5.04" ry="4.07" transform="rotate(-60 483.70 635.60)" fill="#ce3c63"/>
<ellipse cx="451.40" cy="642.20" rx="4.58" ry="3.70" transform="rotate(-60 451.40 642.20)" fill="#4d1625"/>
<ellipse cx="469.30" cy="647.60" rx="4.58" ry="3.70" transform="rotate(-60 469.30 647.60)" fill="#4d1625"/>
<ellipse cx="501.60" cy="642.80" rx="4.52" ry="3.65" transform="rotate(-60 501.60 642.80)" fill="#41131f"/>
<ellipse cx="454.30" cy="662.60" rx="6.50" ry="4.20" transform="rotate(-35 454.30 662.60)" fill="#ff4a7a"/>
<ellipse cx="441.80" cy="672.70" rx="4.94" ry="3.99" transform="rotate(-60 441.80 672.70)" fill="#af3354"/>
<ellipse cx="474.70" cy="666.80" rx="4.99" ry="4.03" transform="rotate(-60 474.70 666.80)" fill="#bf375b"/>
<ellipse cx="490.30" cy="657.20" rx="4.90" ry="3.03" transform="rotate(-20 490.30 657.20)" fill="#5a1a2b"/>
<ellipse cx="462.10" cy="680.50" rx="5.82" ry="3.69" transform="rotate(-40 462.10 680.50)" fill="#ce3c63"/>
<ellipse cx="447.20" cy="691.60" rx="5.82" ry="3.69" transform="rotate(-20 447.20 691.60)" fill="#ce3c63"/>
<ellipse cx="481.90" cy="686.50" rx="4.68" ry="3.78" transform="rotate(-60 481.90 686.50)" fill="#681e32"/>
<ellipse cx="493.90" cy="675.70" rx="4.47" ry="3.61" transform="rotate(-60 493.90 675.70)" fill="#350f1a"/>
<ellipse cx="510.60" cy="678.10" rx="4.52" ry="3.65" transform="rotate(-60 510.60 678.10)" fill="#41131f"/>
<ellipse cx="510.60" cy="630.30" rx="4.47" ry="3.61" transform="rotate(-60 510.60 630.30)" fill="#350f1a"/>
<ellipse cx="480.10" cy="618.90" rx="4.42" ry="3.57" transform="rotate(-60 480.10 618.90)" fill="#2a0c14"/>
<ellipse cx="353.20" cy="701.10" rx="4.42" ry="3.57" transform="rotate(-60 353.20 701.10)" fill="#2a0c14"/>
<ellipse cx="356.80" cy="716.10" rx="4.68" ry="3.78" transform="rotate(-60 356.80 716.10)" fill="#681e32"/>
<ellipse cx="370.00" cy="716.60" rx="4.58" ry="3.70" transform="rotate(-60 370.00 716.60)" fill="#4d1625"/>
<ellipse cx="378.30" cy="705.90" rx="4.42" ry="3.57" transform="rotate(-60 378.30 705.90)" fill="#2a0c14"/>
<ellipse cx="388.50" cy="724.40" rx="4.68" ry="3.78" transform="rotate(-60 388.50 724.40)" fill="#681e32"/>
<ellipse cx="417.80" cy="697.50" rx="4.58" ry="3.70" transform="rotate(-60 417.80 697.50)" fill="#4d1625"/>
<ellipse cx="431.00" cy="707.10" rx="4.47" ry="3.61" transform="rotate(-60 431.00 707.10)" fill="#350f1a"/>
<ellipse cx="403.50" cy="716.60" rx="4.37" ry="3.53" transform="rotate(-60 403.50 716.60)" fill="#1f090f"/>
<ellipse cx="420.50" cy="724.10" rx="4.47" ry="3.61" transform="rotate(-60 420.50 724.10)" fill="#350f1a"/>
<ellipse cx="422.60" cy="733.40" rx="4.52" ry="3.65" transform="rotate(-60 422.60 733.40)" fill="#41131f"/>
<ellipse cx="356.80" cy="746.60" rx="4.68" ry="3.78" transform="rotate(-60 356.80 746.60)" fill="#681e32"/>
<ellipse cx="392.70" cy="744.20" rx="4.78" ry="3.86" transform="rotate(-60 392.70 744.20)" fill="#83263f"/>
<ellipse cx="375.30" cy="752.60" rx="5.04" ry="4.07" transform="rotate(-60 375.30 752.60)" fill="#ce3c63"/>
<ellipse cx="409.50" cy="747.80" rx="4.52" ry="3.65" transform="rotate(-60 409.50 747.80)" fill="#41131f"/>
<ellipse cx="365.80" cy="767.50" rx="4.99" ry="4.03" transform="rotate(-60 365.80 767.50)" fill="#bf375b"/>
<ellipse cx="386.70" cy="770.50" rx="4.68" ry="3.78" transform="rotate(-60 386.70 770.50)" fill="#681e32"/>
<ellipse cx="397.50" cy="763.30" rx="4.63" ry="3.74" transform="rotate(-60 397.50 763.30)" fill="#5a1a2b"/>
<ellipse cx="429.80" cy="753.80" rx="4.52" ry="3.65" transform="rotate(-60 429.80 753.80)" fill="#41131f"/>
<ellipse cx="417.80" cy="769.30" rx="4.52" ry="3.65" transform="rotate(-60 417.80 769.30)" fill="#41131f"/>
<ellipse cx="359.20" cy="731.00" rx="4.47" ry="3.61" transform="rotate(-60 359.20 731.00)" fill="#350f1a"/>
<ellipse cx="468.10" cy="699.90" rx="4.63" ry="3.74" transform="rotate(-60 468.10 699.90)" fill="#5a1a2b"/>
<ellipse cx="487.90" cy="701.70" rx="4.58" ry="3.70" transform="rotate(-60 487.90 701.70)" fill="#4d1625"/>
<ellipse cx="452.60" cy="710.70" rx="5.04" ry="4.07" transform="rotate(-60 452.60 710.70)" fill="#ce3c63"/>
<ellipse cx="479.50" cy="717.80" rx="4.40" ry="2.99" transform="rotate(50 479.50 717.80)" fill="#4d1625"/>
<ellipse cx="499.20" cy="718.40" rx="4.78" ry="3.86" transform="rotate(-60 499.20 718.40)" fill="#83263f"/>
<ellipse cx="438.80" cy="721.40" rx="4.42" ry="3.57" transform="rotate(-60 438.80 721.40)" fill="#2a0c14"/>
<ellipse cx="459.10" cy="725.00" rx="4.58" ry="3.70" transform="rotate(-60 459.10 725.00)" fill="#4d1625"/>
<ellipse cx="448.40" cy="735.80" rx="4.58" ry="3.70" transform="rotate(-60 448.40 735.80)" fill="#4d1625"/>
<ellipse cx="485.50" cy="734.60" rx="4.47" ry="3.61" transform="rotate(-60 485.50 734.60)" fill="#350f1a"/>
<ellipse cx="503.40" cy="739.40" rx="4.52" ry="3.65" transform="rotate(-60 503.40 739.40)" fill="#41131f"/>
<ellipse cx="469.30" cy="743.00" rx="4.94" ry="3.99" transform="rotate(-60 469.30 743.00)" fill="#af3354"/>
<ellipse cx="435.20" cy="752.60" rx="4.52" ry="3.65" transform="rotate(-60 435.20 752.60)" fill="#41131f"/>
<ellipse cx="454.30" cy="756.10" rx="4.63" ry="3.74" transform="rotate(-60 454.30 756.10)" fill="#5a1a2b"/>
<ellipse cx="490.30" cy="753.80" rx="4.47" ry="3.61" transform="rotate(-60 490.30 753.80)" fill="#350f1a"/>
<ellipse cx="508.20" cy="759.70" rx="4.47" ry="3.61" transform="rotate(-60 508.20 759.70)" fill="#350f1a"/>
<ellipse cx="473.50" cy="764.50" rx="4.73" ry="3.82" transform="rotate(-60 473.50 764.50)" fill="#752238"/>
<ellipse cx="463.90" cy="774.10" rx="4.52" ry="3.65" transform="rotate(-60 463.90 774.10)" fill="#41131f"/>
<ellipse cx="438.80" cy="771.70" rx="4.94" ry="3.99" transform="rotate(-60 438.80 771.70)" fill="#af3354"/>
<ellipse cx="510.60" cy="775.30" rx="4.47" ry="3.61" transform="rotate(-60 510.60 775.30)" fill="#350f1a"/>
</g></g>
<clipPath id="cNA1"><rect x="521" y="611.1" width="163" height="166.5"/></clipPath>
<g clip-path="url(#cNA1)"><g filter="url(#f240_155)">
<rect x="509" y="599.1" width="187" height="190.5" fill="#000"/>
<line x1="556.90" y1="626.10" x2="546.10" y2="636.20" stroke="#005b00" stroke-width="5.04" stroke-linecap="round"/>
<line x1="572.50" y1="613.50" x2="578.50" y2="628.50" stroke="#006600" stroke-width="5.04" stroke-linecap="round"/>
<line x1="603.60" y1="657.60" x2="591.60" y2="666.80" stroke="#008e00" stroke-width="5.04" stroke-linecap="round"/>
<line x1="550.90" y1="681.10" x2="533.00" y2="692.50" stroke="#005100" stroke-width="5.04" stroke-linecap="round"/>
<line x1="576.70" y1="680.50" x2="583.20" y2="696.60" stroke="#007a00" stroke-width="5.04" stroke-linecap="round"/>
<line x1="615.00" y1="626.70" x2="620.40" y2="642.20" stroke="#009700" stroke-width="5.04" stroke-linecap="round"/>
<line x1="636.50" y1="630.30" x2="640.10" y2="651.80" stroke="#005b00" stroke-width="5.04" stroke-linecap="round"/>
<line x1="640.10" y1="651.80" x2="646.10" y2="665.60" stroke="#006600" stroke-width="5.04" stroke-linecap="round"/>
<line x1="570.10" y1="713.10" x2="576.10" y2="731.00" stroke="#007000" stroke-width="5.04" stroke-linecap="round"/>
<line x1="576.10" y1="731.00" x2="583.20" y2="749.00" stroke="#007000" stroke-width="5.04" stroke-linecap="round"/>
<line x1="583.20" y1="749.00" x2="588.00" y2="764.50" stroke="#006600" stroke-width="5.04" stroke-linecap="round"/>
<line x1="561.10" y1="745.40" x2="567.70" y2="762.10" stroke="#005b00" stroke-width="5.04" stroke-linecap="round"/>
<line x1="567.70" y1="762.10" x2="574.30" y2="774.70" stroke="#005b00" stroke-width="5.04" stroke-linecap="round"/>
<line x1="548.50" y1="755.00" x2="553.30" y2="771.70" stroke="#006600" stroke-width="5.04" stroke-linecap="round"/>
<line x1="618.00" y1="740.60" x2="622.80" y2="762.10" stroke="#007000" stroke-width="5.04" stroke-linecap="round"/>
<line x1="671.20" y1="745.40" x2="677.20" y2="757.30" stroke="#005100" stroke-width="5.04" stroke-linecap="round"/>
<ellipse cx="541.30" cy="615.90" rx="4.85" ry="3.40" transform="rotate(-10 541.30 615.90)" fill="#00dc00"/>
<ellipse cx="527.60" cy="629.70" rx="5.28" ry="3.82" transform="rotate(-80 527.60 629.70)" fill="#009500"/>
<ellipse cx="556.90" cy="626.10" rx="5.57" ry="4.03" transform="rotate(-80 556.90 626.10)" fill="#00d100"/>
<ellipse cx="546.10" cy="636.20" rx="5.10" ry="3.70" transform="rotate(-80 546.10 636.20)" fill="#007000"/>
<ellipse cx="572.50" cy="613.50" rx="5.16" ry="3.74" transform="rotate(-80 572.50 613.50)" fill="#007c00"/>
<ellipse cx="578.50" cy="628.50" rx="5.80" ry="4.20" transform="rotate(-80 578.50 628.50)" fill="#00ff00"/>
<ellipse cx="595.80" cy="617.10" rx="5.10" ry="3.70" transform="rotate(-80 595.80 617.10)" fill="#007000"/>
<ellipse cx="599.40" cy="639.20" rx="5.34" ry="3.86" transform="rotate(-80 599.40 639.20)" fill="#00a100"/>
<ellipse cx="529.40" cy="650.00" rx="5.34" ry="3.86" transform="rotate(-80 529.40 650.00)" fill="#00a100"/>
<ellipse cx="564.10" cy="646.40" rx="4.99" ry="3.61" transform="rotate(-80 564.10 646.40)" fill="#005600"/>
<ellipse cx="583.20" cy="648.80" rx="4.87" ry="3.53" transform="rotate(-80 583.20 648.80)" fill="#003c00"/>
<ellipse cx="550.90" cy="658.40" rx="5.16" ry="3.74" transform="rotate(-80 550.90 658.40)" fill="#007c00"/>
<ellipse cx="568.90" cy="662.60" rx="5.51" ry="3.99" transform="rotate(-80 568.90 662.60)" fill="#00c500"/>
<ellipse cx="603.60" cy="657.60" rx="5.80" ry="4.20" transform="rotate(-80 603.60 657.60)" fill="#00ff00"/>
<ellipse cx="591.60" cy="666.80" rx="5.39" ry="3.91" transform="rotate(-80 591.60 666.80)" fill="#00ad00"/>
<ellipse cx="537.80" cy="665.60" rx="4.87" ry="3.53" transform="rotate(-80 537.80 665.60)" fill="#003c00"/>
<ellipse cx="550.90" cy="681.10" rx="5.45" ry="3.95" transform="rotate(-80 550.90 681.10)" fill="#00b900"/>
<ellipse cx="533.00" cy="692.50" rx="5.05" ry="3.65" transform="rotate(-80 533.00 692.50)" fill="#006300"/>
<ellipse cx="576.70" cy="680.50" rx="5.57" ry="4.03" transform="rotate(-80 576.70 680.50)" fill="#00d100"/>
<ellipse cx="583.20" cy="696.60" rx="5.28" ry="3.82" transform="rotate(-80 583.20 696.60)" fill="#009500"/>
<ellipse cx="598.80" cy="682.90" rx="5.16" ry="3.74" transform="rotate(-80 598.80 682.90)" fill="#007c00"/>
<ellipse cx="628.70" cy="614.70" rx="4.99" ry="3.61" transform="rotate(-80 628.70 614.70)" fill="#005600"/>
<ellipse cx="615.00" cy="626.70" rx="5.57" ry="4.03" transform="rotate(-80 615.00 626.70)" fill="#00d100"/>
<ellipse cx="620.40" cy="642.20" rx="5.45" ry="3.95" transform="rotate(-80 620.40 642.20)" fill="#00b900"/>
<ellipse cx="636.50" cy="630.30" rx="5.10" ry="3.70" transform="rotate(-80 636.50 630.30)" fill="#007000"/>
<ellipse cx="640.10" cy="651.80" rx="5.16" ry="3.74" transform="rotate(-80 640.10 651.80)" fill="#007c00"/>
<ellipse cx="646.10" cy="665.60" rx="5.34" ry="3.86" transform="rotate(-80 646.10 665.60)" fill="#00a100"/>
<ellipse cx="649.10" cy="618.90" rx="5.22" ry="3.78" transform="rotate(-80 649.10 618.90)" fill="#008900"/>
<ellipse cx="655.70" cy="635.60" rx="5.39" ry="3.91" transform="rotate(-80 655.70 635.60)" fill="#00ad00"/>
<ellipse cx="674.80" cy="647.00" rx="4.93" ry="3.57" transform="rotate(-80 674.80 647.00)" fill="#004900"/>
<ellipse cx="661.10" cy="655.40" rx="5.22" ry="3.78" transform="rotate(-80 661.10 655.40)" fill="#008900"/>
<ellipse cx="624.50" cy="662.60" rx="5.34" ry="3.86" transform="rotate(-80 624.50 662.60)" fill="#00a100"/>
<ellipse cx="673.60" cy="669.80" rx="5.39" ry="3.91" transform="rotate(-80 673.60 669.80)" fill="#00ad00"/>
<ellipse cx="634.70" cy="677.50" rx="4.99" ry="3.61" transform="rotate(-80 634.70 677.50)" fill="#005600"/>
<ellipse cx="611.40" cy="676.30" rx="5.16" ry="3.74" transform="rotate(-80 611.40 676.30)" fill="#007c00"/>
<ellipse cx="655.70" cy="685.30" rx="5.22" ry="3.78" transform="rotate(-80 655.70 685.30)" fill="#008900"/>
<ellipse cx="619.80" cy="693.60" rx="5.51" ry="3.99" transform="rotate(-80 619.80 693.60)" fill="#00c500"/>
<ellipse cx="641.30" cy="696.10" rx="5.16" ry="3.74" transform="rotate(-80 641.30 696.10)" fill="#007c00"/>
<ellipse cx="674.80" cy="690.70" rx="5.05" ry="3.65" transform="rotate(-80 674.80 690.70)" fill="#006300"/>
<ellipse cx="529.40" cy="701.10" rx="4.99" ry="3.61" transform="rotate(-80 529.40 701.10)" fill="#005600"/>
<ellipse cx="549.70" cy="704.10" rx="5.10" ry="3.70" transform="rotate(-80 549.70 704.10)" fill="#007000"/>
<ellipse cx="534.20" cy="717.20" rx="5.57" ry="4.03" transform="rotate(-80 534.20 717.20)" fill="#00d100"/>
<ellipse cx="570.10" cy="713.10" rx="5.22" ry="3.78" transform="rotate(-80 570.10 713.10)" fill="#008900"/>
<ellipse cx="576.10" cy="731.00" rx="5.22" ry="3.78" transform="rotate(-80 576.10 731.00)" fill="#008900"/>
<ellipse cx="583.20" cy="749.00" rx="5.74" ry="4.16" transform="rotate(-80 583.20 749.00)" fill="#00f300"/>
<ellipse cx="588.00" cy="764.50" rx="5.16" ry="3.74" transform="rotate(-80 588.00 764.50)" fill="#007c00"/>
<ellipse cx="590.40" cy="715.40" rx="5.22" ry="3.78" transform="rotate(-80 590.40 715.40)" fill="#008900"/>
<ellipse cx="554.50" cy="725.00" rx="4.99" ry="3.61" transform="rotate(-80 554.50 725.00)" fill="#005600"/>
<ellipse cx="598.80" cy="734.60" rx="5.63" ry="4.07" transform="rotate(-80 598.80 734.60)" fill="#00dc00"/>
<ellipse cx="528.20" cy="743.00" rx="4.99" ry="3.61" transform="rotate(-80 528.20 743.00)" fill="#005600"/>
<ellipse cx="561.10" cy="745.40" rx="5.10" ry="3.70" transform="rotate(-80 561.10 745.40)" fill="#007000"/>
<ellipse cx="567.70" cy="762.10" rx="5.10" ry="3.70" transform="rotate(-80 567.70 762.10)" fill="#007000"/>
<ellipse cx="574.30" cy="774.70" rx="5.22" ry="3.78" transform="rotate(-80 574.30 774.70)" fill="#008900"/>
<ellipse cx="548.50" cy="755.00" rx="5.34" ry="3.86" transform="rotate(-80 548.50 755.00)" fill="#00a100"/>
<ellipse cx="553.30" cy="771.70" rx="5.16" ry="3.74" transform="rotate(-80 553.30 771.70)" fill="#007c00"/>
<ellipse cx="602.00" cy="753.10" rx="5.57" ry="4.03" transform="rotate(-80 602.00 753.10)" fill="#00d100"/>
<ellipse cx="533.00" cy="764.50" rx="5.63" ry="4.07" transform="rotate(-80 533.00 764.50)" fill="#00dc00"/>
<ellipse cx="604.20" cy="704.10" rx="5.28" ry="3.82" transform="rotate(-80 604.20 704.10)" fill="#009500"/>
<ellipse cx="624.50" cy="709.50" rx="5.16" ry="3.74" transform="rotate(-80 624.50 709.50)" fill="#007c00"/>
<ellipse cx="660.50" cy="705.30" rx="5.16" ry="3.74" transform="rotate(-80 660.50 705.30)" fill="#007c00"/>
<ellipse cx="645.50" cy="714.90" rx="5.28" ry="3.82" transform="rotate(-80 645.50 714.90)" fill="#009500"/>
<ellipse cx="669.40" cy="720.80" rx="5.22" ry="3.78" transform="rotate(-80 669.40 720.80)" fill="#008900"/>
<ellipse cx="633.50" cy="727.40" rx="5.22" ry="3.78" transform="rotate(-80 633.50 727.40)" fill="#008900"/>
<ellipse cx="652.70" cy="732.80" rx="5.34" ry="3.86" transform="rotate(-80 652.70 732.80)" fill="#00a100"/>
<ellipse cx="639.50" cy="742.40" rx="5.74" ry="4.16" transform="rotate(-80 639.50 742.40)" fill="#00f300"/>
<ellipse cx="618.00" cy="740.60" rx="5.22" ry="3.78" transform="rotate(-80 618.00 740.60)" fill="#008900"/>
<ellipse cx="622.80" cy="762.10" rx="5.34" ry="3.86" transform="rotate(-80 622.80 762.10)" fill="#00a100"/>
<ellipse cx="671.20" cy="745.40" rx="5.05" ry="3.65" transform="rotate(-80 671.20 745.40)" fill="#006300"/>
<ellipse cx="677.20" cy="757.30" rx="5.10" ry="3.70" transform="rotate(-80 677.20 757.30)" fill="#007000"/>
<ellipse cx="660.50" cy="751.40" rx="4.99" ry="3.61" transform="rotate(-80 660.50 751.40)" fill="#005600"/>
<ellipse cx="643.10" cy="764.50" rx="5.22" ry="3.78" transform="rotate(-80 643.10 764.50)" fill="#008900"/>
<ellipse cx="609.60" cy="771.70" rx="5.28" ry="3.82" transform="rotate(-80 609.60 771.70)" fill="#009500"/>
<ellipse cx="665.20" cy="771.10" rx="5.22" ry="3.78" transform="rotate(-80 665.20 771.10)" fill="#008900"/>
<ellipse cx="674.80" cy="695.10" rx="4.99" ry="3.61" transform="rotate(-80 674.80 695.10)" fill="#005600"/>
</g></g>
<clipPath id="cNA2"><rect x="521" y="611.1" width="163" height="166.5"/></clipPath>
<g clip-path="url(#cNA2)" style="mix-blend-mode:screen"><g filter="url(#f150_150)">
<rect x="509" y="599.1" width="187" height="190.5" fill="#000"/>
<ellipse cx="570.27" cy="616.28" rx="3.98" ry="2.77" transform="rotate(-80 570.27 616.28)" fill="#8c8c00"/>
<ellipse cx="626.85" cy="614.38" rx="3.84" ry="2.67" transform="rotate(-80 626.85 614.38)" fill="#737300"/>
<ellipse cx="534.83" cy="623.50" rx="3.91" ry="2.72" transform="rotate(-80 534.83 623.50)" fill="#808000"/>
<ellipse cx="591.41" cy="621.60" rx="3.63" ry="2.53" transform="rotate(-80 591.41 621.60)" fill="#4c4c00"/>
<ellipse cx="647.99" cy="619.70" rx="3.70" ry="2.58" transform="rotate(-80 647.99 619.70)" fill="#595900"/>
<ellipse cx="555.97" cy="628.82" rx="3.77" ry="2.62" transform="rotate(-80 555.97 628.82)" fill="#666600"/>
<ellipse cx="612.55" cy="626.92" rx="3.56" ry="2.48" transform="rotate(-80 612.55 626.92)" fill="#404000"/>
<ellipse cx="669.13" cy="625.02" rx="3.56" ry="2.48" transform="rotate(-80 669.13 625.02)" fill="#404000"/>
<ellipse cx="577.11" cy="634.14" rx="4.32" ry="3.01" transform="rotate(-80 577.11 634.14)" fill="#cccc00"/>
<ellipse cx="633.69" cy="632.24" rx="4.39" ry="3.06" transform="rotate(-80 633.69 632.24)" fill="#d9d900"/>
<ellipse cx="541.67" cy="641.36" rx="3.84" ry="2.67" transform="rotate(-80 541.67 641.36)" fill="#737300"/>
<ellipse cx="598.25" cy="639.46" rx="4.39" ry="3.06" transform="rotate(-80 598.25 639.46)" fill="#d9d900"/>
<ellipse cx="654.83" cy="637.56" rx="3.50" ry="2.43" transform="rotate(-80 654.83 637.56)" fill="#333300"/>
<ellipse cx="562.81" cy="646.68" rx="3.70" ry="2.58" transform="rotate(-80 562.81 646.68)" fill="#595900"/>
<ellipse cx="619.39" cy="644.78" rx="4.12" ry="2.86" transform="rotate(-80 619.39 644.78)" fill="#a6a600"/>
<ellipse cx="675.97" cy="642.88" rx="3.56" ry="2.48" transform="rotate(-80 675.97 642.88)" fill="#404000"/>
<ellipse cx="527.37" cy="653.90" rx="3.91" ry="2.72" transform="rotate(-80 527.37 653.90)" fill="#808000"/>
<ellipse cx="583.95" cy="652.00" rx="4.32" ry="3.01" transform="rotate(-80 583.95 652.00)" fill="#cccc00"/>
<ellipse cx="640.53" cy="650.10" rx="4.32" ry="3.01" transform="rotate(-80 640.53 650.10)" fill="#cccc00"/>
<ellipse cx="548.51" cy="659.22" rx="3.91" ry="2.72" transform="rotate(-80 548.51 659.22)" fill="#808000"/>
<ellipse cx="605.09" cy="657.32" rx="3.91" ry="2.72" transform="rotate(-80 605.09 657.32)" fill="#808000"/>
<ellipse cx="661.67" cy="655.42" rx="3.91" ry="2.72" transform="rotate(-80 661.67 655.42)" fill="#808000"/>
<ellipse cx="569.65" cy="664.54" rx="4.25" ry="2.96" transform="rotate(-80 569.65 664.54)" fill="#bfbf00"/>
<ellipse cx="626.23" cy="662.64" rx="4.39" ry="3.06" transform="rotate(-80 626.23 662.64)" fill="#d9d900"/>
<ellipse cx="534.21" cy="671.76" rx="4.05" ry="2.82" transform="rotate(-80 534.21 671.76)" fill="#999900"/>
<ellipse cx="590.79" cy="669.86" rx="4.39" ry="3.06" transform="rotate(-80 590.79 669.86)" fill="#d9d900"/>
<ellipse cx="647.37" cy="667.96" rx="4.60" ry="3.20" transform="rotate(-80 647.37 667.96)" fill="#ffff00"/>
<ellipse cx="555.35" cy="677.08" rx="4.32" ry="3.01" transform="rotate(-80 555.35 677.08)" fill="#cccc00"/>
<ellipse cx="611.93" cy="675.18" rx="3.98" ry="2.77" transform="rotate(-80 611.93 675.18)" fill="#8c8c00"/>
<ellipse cx="668.51" cy="673.28" rx="3.70" ry="2.58" transform="rotate(-80 668.51 673.28)" fill="#595900"/>
<ellipse cx="576.49" cy="682.40" rx="4.46" ry="3.10" transform="rotate(-80 576.49 682.40)" fill="#e6e600"/>
<ellipse cx="633.07" cy="680.50" rx="4.32" ry="3.01" transform="rotate(-80 633.07 680.50)" fill="#cccc00"/>
<ellipse cx="541.05" cy="689.62" rx="3.77" ry="2.62" transform="rotate(-80 541.05 689.62)" fill="#666600"/>
<ellipse cx="597.63" cy="687.72" rx="3.70" ry="2.58" transform="rotate(-80 597.63 687.72)" fill="#595900"/>
<ellipse cx="654.21" cy="685.82" rx="4.32" ry="3.01" transform="rotate(-80 654.21 685.82)" fill="#cccc00"/>
<ellipse cx="562.19" cy="694.94" rx="4.32" ry="3.01" transform="rotate(-80 562.19 694.94)" fill="#cccc00"/>
<ellipse cx="618.77" cy="693.04" rx="4.25" ry="2.96" transform="rotate(-80 618.77 693.04)" fill="#bfbf00"/>
<ellipse cx="675.35" cy="691.14" rx="3.63" ry="2.53" transform="rotate(-80 675.35 691.14)" fill="#4c4c00"/>
<ellipse cx="526.75" cy="702.16" rx="3.98" ry="2.77" transform="rotate(-80 526.75 702.16)" fill="#8c8c00"/>
<ellipse cx="583.33" cy="700.26" rx="4.60" ry="3.20" transform="rotate(-80 583.33 700.26)" fill="#ffff00"/>
<ellipse cx="639.91" cy="698.36" rx="4.32" ry="3.01" transform="rotate(-80 639.91 698.36)" fill="#cccc00"/>
<ellipse cx="547.89" cy="707.48" rx="4.25" ry="2.96" transform="rotate(-80 547.89 707.48)" fill="#bfbf00"/>
<ellipse cx="604.47" cy="705.58" rx="3.70" ry="2.58" transform="rotate(-80 604.47 705.58)" fill="#595900"/>
<ellipse cx="661.05" cy="703.68" rx="3.70" ry="2.58" transform="rotate(-80 661.05 703.68)" fill="#595900"/>
<ellipse cx="569.03" cy="712.80" rx="4.39" ry="3.06" transform="rotate(-80 569.03 712.80)" fill="#d9d900"/>
<ellipse cx="625.61" cy="710.90" rx="4.25" ry="2.96" transform="rotate(-80 625.61 710.90)" fill="#bfbf00"/>
<ellipse cx="533.59" cy="720.02" rx="3.63" ry="2.53" transform="rotate(-80 533.59 720.02)" fill="#4c4c00"/>
<ellipse cx="590.17" cy="718.12" rx="4.53" ry="3.15" transform="rotate(-80 590.17 718.12)" fill="#f2f200"/>
<ellipse cx="646.75" cy="716.22" rx="3.70" ry="2.58" transform="rotate(-80 646.75 716.22)" fill="#595900"/>
<ellipse cx="554.73" cy="725.34" rx="4.53" ry="3.15" transform="rotate(-80 554.73 725.34)" fill="#f2f200"/>
<ellipse cx="611.31" cy="723.44" rx="4.39" ry="3.06" transform="rotate(-80 611.31 723.44)" fill="#d9d900"/>
<ellipse cx="667.89" cy="721.54" rx="3.63" ry="2.53" transform="rotate(-80 667.89 721.54)" fill="#4c4c00"/>
<ellipse cx="575.87" cy="730.66" rx="4.05" ry="2.82" transform="rotate(-80 575.87 730.66)" fill="#999900"/>
<ellipse cx="632.45" cy="728.76" rx="4.32" ry="3.01" transform="rotate(-80 632.45 728.76)" fill="#cccc00"/>
<ellipse cx="540.43" cy="737.88" rx="4.25" ry="2.96" transform="rotate(-80 540.43 737.88)" fill="#bfbf00"/>
<ellipse cx="597.01" cy="735.98" rx="3.70" ry="2.58" transform="rotate(-80 597.01 735.98)" fill="#595900"/>
<ellipse cx="653.59" cy="734.08" rx="4.05" ry="2.82" transform="rotate(-80 653.59 734.08)" fill="#999900"/>
<ellipse cx="561.57" cy="743.20" rx="3.98" ry="2.77" transform="rotate(-80 561.57 743.20)" fill="#8c8c00"/>
<ellipse cx="618.15" cy="741.30" rx="3.98" ry="2.77" transform="rotate(-80 618.15 741.30)" fill="#8c8c00"/>
<ellipse cx="674.73" cy="739.40" rx="3.63" ry="2.53" transform="rotate(-80 674.73 739.40)" fill="#4c4c00"/>
<ellipse cx="526.13" cy="750.42" rx="4.05" ry="2.82" transform="rotate(-80 526.13 750.42)" fill="#999900"/>
<ellipse cx="582.71" cy="748.52" rx="4.53" ry="3.15" transform="rotate(-80 582.71 748.52)" fill="#f2f200"/>
<ellipse cx="639.29" cy="746.62" rx="4.53" ry="3.15" transform="rotate(-80 639.29 746.62)" fill="#f2f200"/>
<ellipse cx="547.27" cy="755.74" rx="3.91" ry="2.72" transform="rotate(-80 547.27 755.74)" fill="#808000"/>
<ellipse cx="603.85" cy="753.84" rx="4.25" ry="2.96" transform="rotate(-80 603.85 753.84)" fill="#bfbf00"/>
<ellipse cx="660.43" cy="751.94" rx="3.63" ry="2.53" transform="rotate(-80 660.43 751.94)" fill="#4c4c00"/>
<ellipse cx="568.41" cy="761.06" rx="4.32" ry="3.01" transform="rotate(-80 568.41 761.06)" fill="#cccc00"/>
<ellipse cx="624.99" cy="759.16" rx="3.63" ry="2.53" transform="rotate(-80 624.99 759.16)" fill="#4c4c00"/>
<ellipse cx="532.97" cy="768.28" rx="3.63" ry="2.53" transform="rotate(-80 532.97 768.28)" fill="#4c4c00"/>
<ellipse cx="589.55" cy="766.38" rx="3.91" ry="2.72" transform="rotate(-80 589.55 766.38)" fill="#808000"/>
<ellipse cx="646.13" cy="764.48" rx="3.77" ry="2.62" transform="rotate(-80 646.13 764.48)" fill="#666600"/>
<ellipse cx="554.11" cy="773.60" rx="3.63" ry="2.53" transform="rotate(-80 554.11 773.60)" fill="#4c4c00"/>
<ellipse cx="610.69" cy="771.70" rx="3.84" ry="2.67" transform="rotate(-80 610.69 771.70)" fill="#737300"/>
<ellipse cx="667.27" cy="769.80" rx="3.63" ry="2.53" transform="rotate(-80 667.27 769.80)" fill="#4c4c00"/>
<ellipse cx="575.25" cy="778.92" rx="3.63" ry="2.53" transform="rotate(-80 575.25 778.92)" fill="#4c4c00"/>
<ellipse cx="631.83" cy="777.02" rx="3.70" ry="2.58" transform="rotate(-80 631.83 777.02)" fill="#595900"/>
<ellipse cx="682.81" cy="660.74" rx="3.56" ry="2.48" transform="rotate(-80 682.81 660.74)" fill="#404000"/>
<ellipse cx="682.19" cy="709.00" rx="3.50" ry="2.43" transform="rotate(-80 682.19 709.00)" fill="#333300"/>
<ellipse cx="681.57" cy="757.26" rx="3.50" ry="2.43" transform="rotate(-80 681.57 757.26)" fill="#333300"/>
<ellipse cx="519.91" cy="684.30" rx="3.63" ry="2.53" transform="rotate(-80 519.91 684.30)" fill="#4c4c00"/>
<ellipse cx="519.29" cy="732.56" rx="3.77" ry="2.62" transform="rotate(-80 519.29 732.56)" fill="#666600"/>
</g></g>
<defs><filter id="f150_114" filterUnits="userSpaceOnUse" x="0" y="400" width="685" height="379" color-interpolation-filters="sRGB"><feGaussianBlur stdDeviation="1.5"/><feComponentTransfer><feFuncR type="linear" slope="1.15"/><feFuncG type="linear" slope="1.15"/><feFuncB type="linear" slope="1.15"/></feComponentTransfer></filter><filter id="f190_130" filterUnits="userSpaceOnUse" x="0" y="400" width="685" height="379" color-interpolation-filters="sRGB"><feGaussianBlur stdDeviation="1.9"/><feComponentTransfer><feFuncR type="linear" slope="1.3"/><feFuncG type="linear" slope="1.3"/><feFuncB type="linear" slope="1.3"/></feComponentTransfer></filter><filter id="f240_140" filterUnits="userSpaceOnUse" x="0" y="400" width="685" height="379" color-interpolation-filters="sRGB"><feGaussianBlur stdDeviation="2.4"/><feComponentTransfer><feFuncR type="linear" slope="1.4"/><feFuncG type="linear" slope="1.4"/><feFuncB type="linear" slope="1.4"/></feComponentTransfer></filter><filter id="f229_140" filterUnits="userSpaceOnUse" x="0" y="400" width="685" height="379" color-interpolation-filters="sRGB"><feGaussianBlur stdDeviation="2.3"/><feComponentTransfer><feFuncR type="linear" slope="1.4"/><feFuncG type="linear" slope="1.4"/><feFuncB type="linear" slope="1.4"/></feComponentTransfer></filter><filter id="f240_155" filterUnits="userSpaceOnUse" x="0" y="400" width="685" height="379" color-interpolation-filters="sRGB"><feGaussianBlur stdDeviation="2.4"/><feComponentTransfer><feFuncR type="linear" slope="1.55"/><feFuncG type="linear" slope="1.55"/><feFuncB type="linear" slope="1.55"/></feComponentTransfer></filter><filter id="f150_150" filterUnits="userSpaceOnUse" x="0" y="400" width="685" height="379" color-interpolation-filters="sRGB"><feGaussianBlur stdDeviation="1.5"/><feComponentTransfer><feFuncR type="linear" slope="1.5"/><feFuncG type="linear" slope="1.5"/><feFuncB type="linear" slope="1.5"/></feComponentTransfer></filter></defs>
<rect x="130.2" y="580.8" width="46.3" height="21.4" fill="#5c5c5c" opacity="0.92"/>
<text x="132.2" y="593.2" font-size="12" textLength="41.00" lengthAdjust="spacingAndGlyphs" fill="#fff" stroke="#fff" stroke-width="0.2">200 pm</text>
<line x1="144.5" y1="598.5" x2="161.2" y2="598.5" stroke="#fff" stroke-width="1.6"/>
<text x="152.8" y="455.6" font-size="19" textLength="18.30" lengthAdjust="spacingAndGlyphs" fill="#fff" stroke="#fff" stroke-width="0.2">Ni</text>
<text x="319.29999999999995" y="455.4" font-size="19" textLength="20.60" lengthAdjust="spacingAndGlyphs" fill="#fff" stroke="#fff" stroke-width="0.2">Cr</text>
<text x="486.09999999999997" y="455.4" font-size="19" textLength="22.20" lengthAdjust="spacingAndGlyphs" fill="#fff" stroke="#fff" stroke-width="0.2">Fe</text>
<text x="659.8" y="457.2" font-size="19" textLength="17.30" lengthAdjust="spacingAndGlyphs" fill="#fff" stroke="#fff" stroke-width="0.2">Al</text>
<text x="147.5" y="631.9" font-size="19" textLength="26.70" lengthAdjust="spacingAndGlyphs" fill="#fff" stroke="#fff" stroke-width="0.2">Mn</text>
<text x="317.29999999999995" y="632.0" font-size="19" textLength="24.80" lengthAdjust="spacingAndGlyphs" fill="#fff" stroke="#fff" stroke-width="0.2">Cu</text>
<text x="488.5" y="632.0" font-size="19" textLength="17.60" lengthAdjust="spacingAndGlyphs" fill="#fff" stroke="#fff" stroke-width="0.2">Si</text>
<text x="636.6" y="631.3" font-size="19" textLength="41.30" lengthAdjust="spacingAndGlyphs" fill="#fff" stroke="#fff" stroke-width="0.2">Ni-Al</text>
<text x="0.8" y="441.5" font-size="22.3" text-anchor="start" fill="#111" stroke="#111" stroke-width="0.2" >h</text>
</svg>
</body></html>
